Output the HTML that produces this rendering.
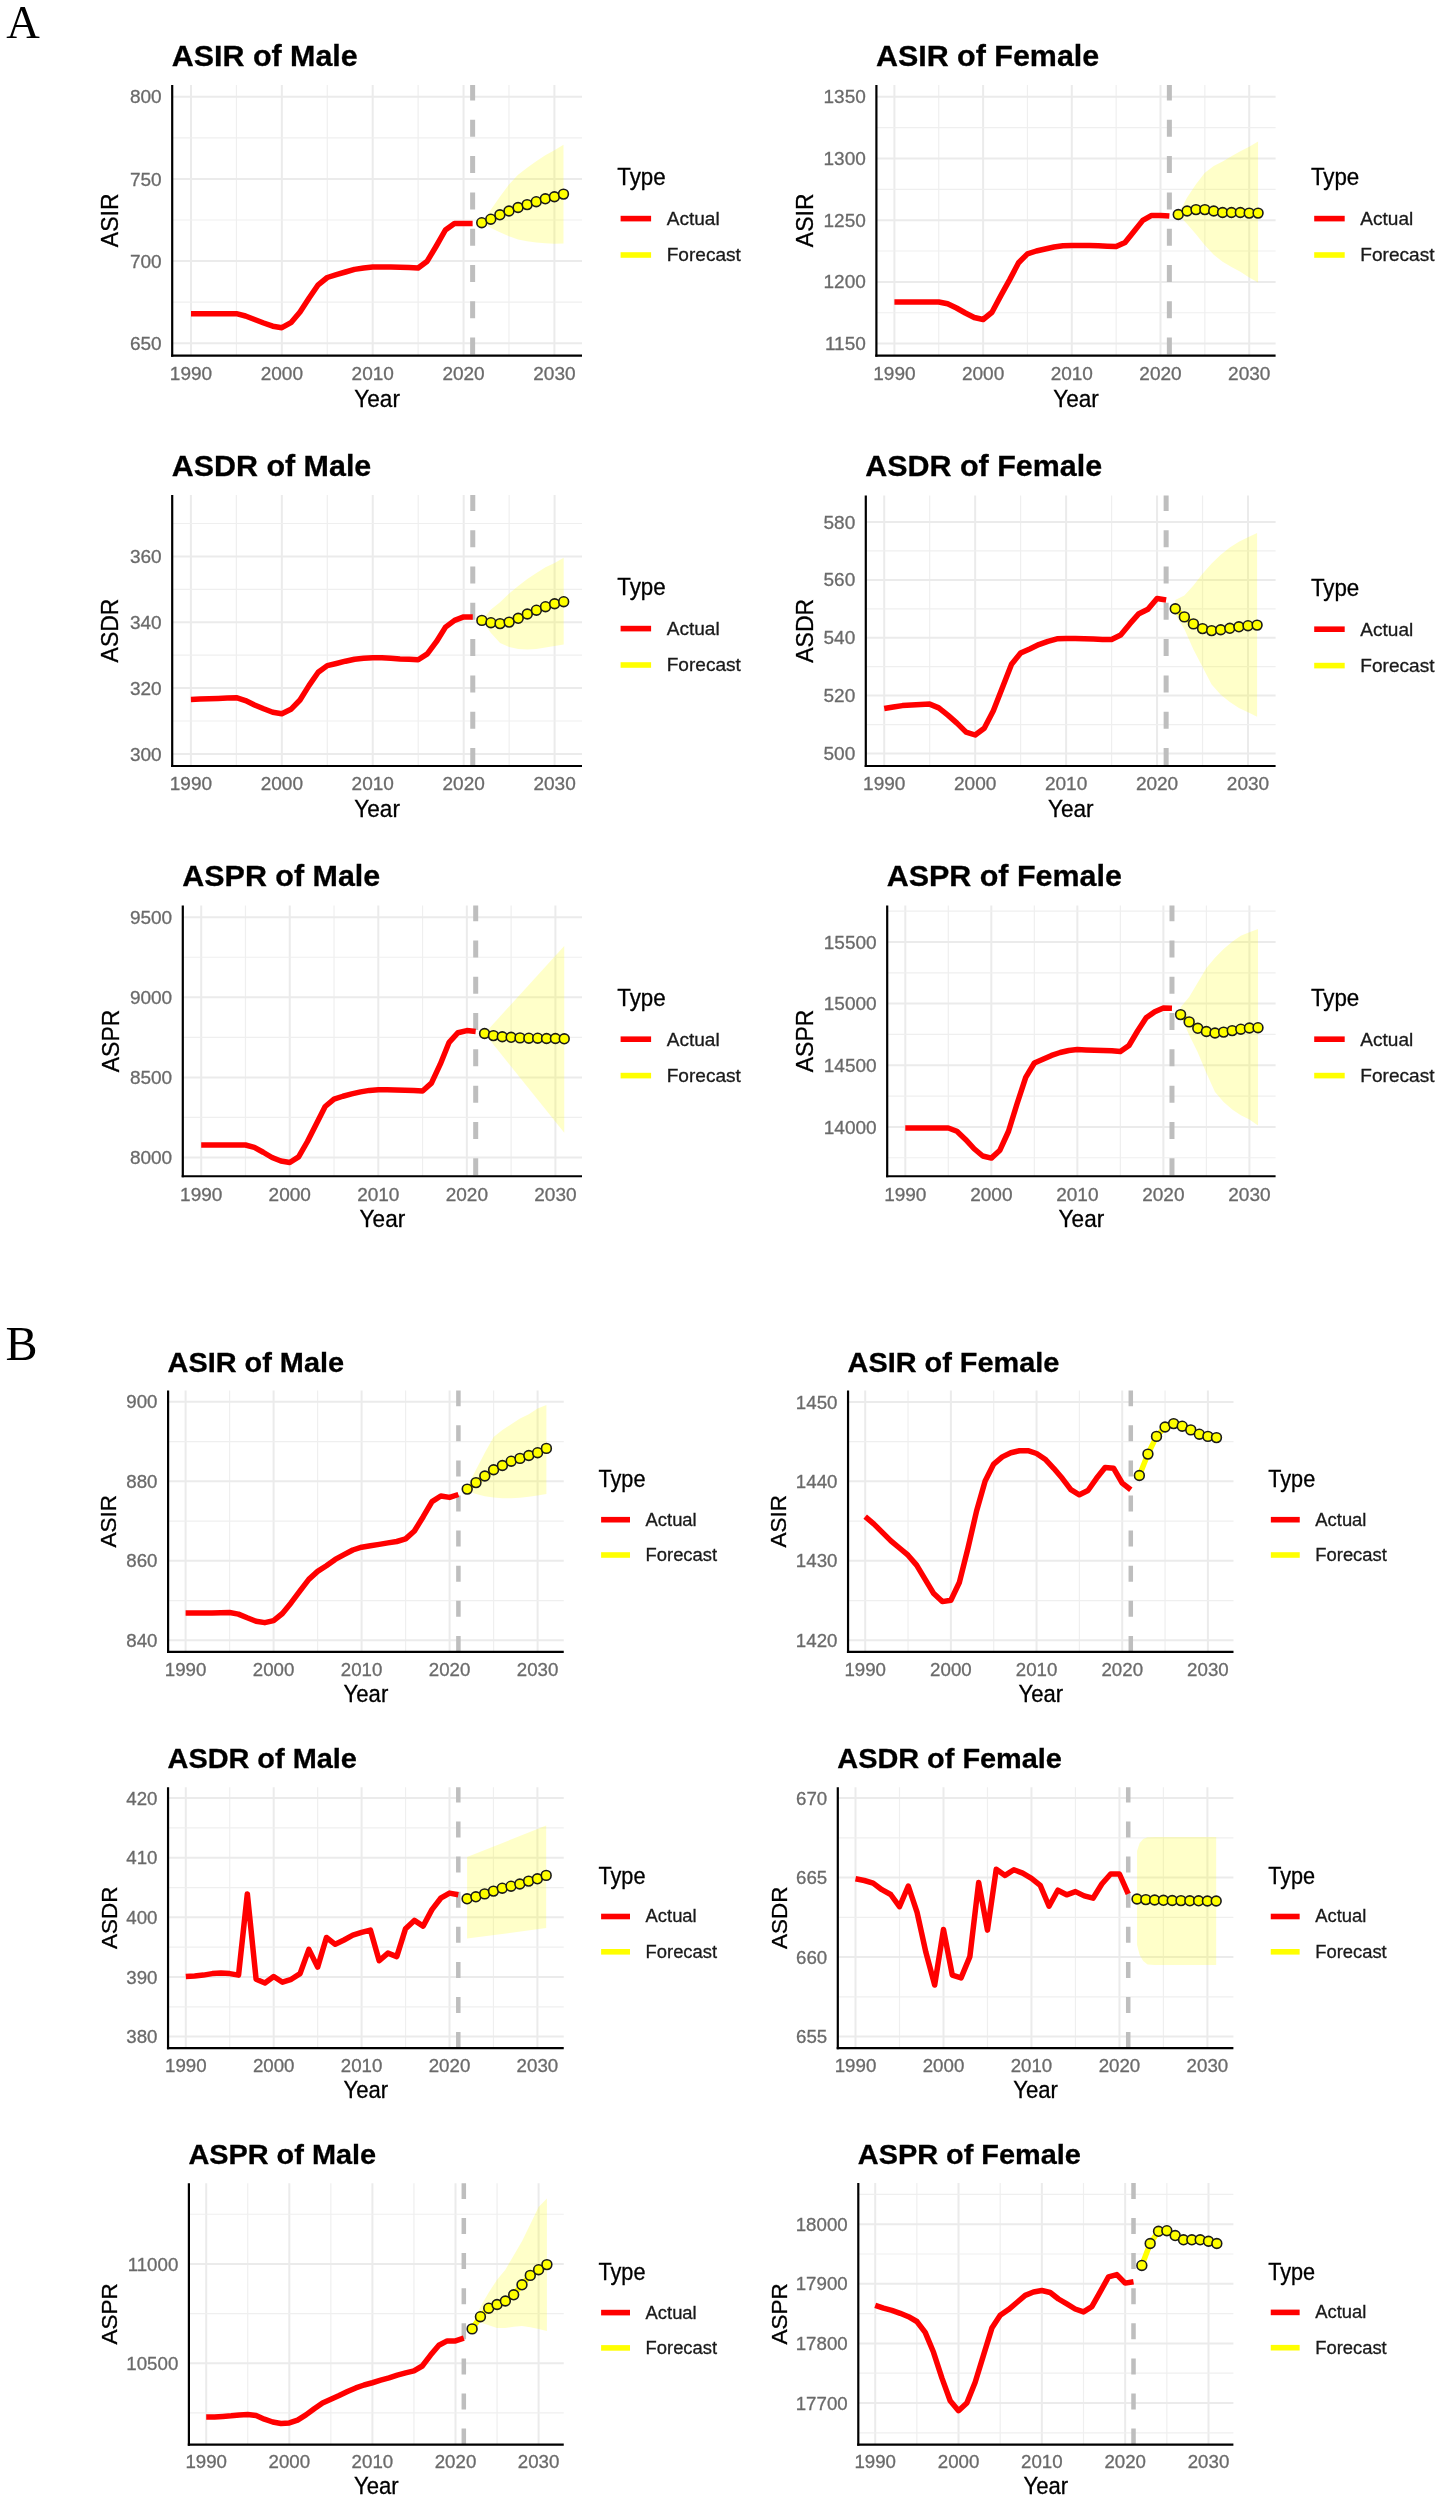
<!DOCTYPE html>
<html><head><meta charset="utf-8"><title>Forecast figure</title>
<style>html,body{margin:0;padding:0;background:#fff;}body{width:1440px;height:2500px;overflow:hidden;}svg{display:block;filter:blur(0.4px);}.tk{font-family:"Liberation Sans",sans-serif;fill:#6a6a6a;stroke:#6a6a6a;stroke-width:0.3px;}.at{font-family:"Liberation Sans",sans-serif;fill:#000;stroke:#000;stroke-width:0.3px;}.lt{font-family:"Liberation Sans",sans-serif;fill:#1a1a1a;stroke:#1a1a1a;stroke-width:0.3px;}.ti{font-family:"Liberation Sans",sans-serif;font-weight:bold;fill:#000;stroke:#000;stroke-width:0.3px;}.pl{font-family:"Liberation Serif",serif;fill:#000;}</style></head><body>
<svg width="1440" height="2500" viewBox="0 0 1440 2500">
<rect width="1440" height="2500" fill="#fff"/>
<text x="6.2" y="38.3" class="pl" font-size="46.5">A</text>
<text x="5.5" y="1359.6" class="pl" font-size="48">B</text>
<line x1="191" y1="85" x2="191" y2="355.6" stroke="#ebebeb" stroke-width="2.0"/>
<line x1="236.43" y1="85" x2="236.43" y2="355.6" stroke="#efefef" stroke-width="1.2"/>
<line x1="281.85" y1="85" x2="281.85" y2="355.6" stroke="#ebebeb" stroke-width="2.0"/>
<line x1="327.27" y1="85" x2="327.27" y2="355.6" stroke="#efefef" stroke-width="1.2"/>
<line x1="372.7" y1="85" x2="372.7" y2="355.6" stroke="#ebebeb" stroke-width="2.0"/>
<line x1="418.12" y1="85" x2="418.12" y2="355.6" stroke="#efefef" stroke-width="1.2"/>
<line x1="463.55" y1="85" x2="463.55" y2="355.6" stroke="#ebebeb" stroke-width="2.0"/>
<line x1="508.98" y1="85" x2="508.98" y2="355.6" stroke="#efefef" stroke-width="1.2"/>
<line x1="554.4" y1="85" x2="554.4" y2="355.6" stroke="#ebebeb" stroke-width="2.0"/>
<line x1="172.2" y1="343.3" x2="582" y2="343.3" stroke="#ebebeb" stroke-width="2.0"/>
<line x1="172.2" y1="302.2" x2="582" y2="302.2" stroke="#efefef" stroke-width="1.2"/>
<line x1="172.2" y1="261.1" x2="582" y2="261.1" stroke="#ebebeb" stroke-width="2.0"/>
<line x1="172.2" y1="220" x2="582" y2="220" stroke="#efefef" stroke-width="1.2"/>
<line x1="172.2" y1="178.9" x2="582" y2="178.9" stroke="#ebebeb" stroke-width="2.0"/>
<line x1="172.2" y1="137.8" x2="582" y2="137.8" stroke="#efefef" stroke-width="1.2"/>
<line x1="172.2" y1="96.7" x2="582" y2="96.7" stroke="#ebebeb" stroke-width="2.0"/>
<path d="M481.72,222.7 L490.8,209.85 L499.89,196.67 L508.98,184.56 L518.06,174.84 L527.14,167.76 L536.23,161.3 L545.31,155.19 L554.4,150.23 L563.49,144.7 L563.49,243.5 L554.4,243.8 L545.31,243.35 L536.23,242.5 L527.14,241.28 L518.06,239.41 L508.98,236.3 L499.89,232.31 L490.8,227.98 L481.72,222.7 Z" fill="#ffff00" fill-opacity="0.21" stroke="none"/>
<line x1="472.63" y1="355.6" x2="472.63" y2="85" stroke="#bebebe" stroke-width="5" stroke-dasharray="17 19.3" stroke-dashoffset="-1"/>
<polyline points="191,313.7 200.09,313.7 209.17,313.7 218.25,313.7 227.34,313.7 236.43,313.7 245.51,316 254.59,319.5 263.68,323 272.76,326.2 281.85,327.7 290.94,322.7 300.02,312 309.11,298 318.19,284.8 327.27,277.5 336.36,274.6 345.44,272 354.53,269.4 363.62,268 372.7,267 381.78,267 390.87,267 399.95,267.2 409.04,267.5 418.12,268 427.21,261.2 436.29,246 445.38,230 454.46,223.6 463.55,223.6 472.63,223.6" fill="none" stroke="#ff0000" stroke-width="5.5" stroke-linejoin="round" stroke-linecap="butt"/>
<polyline points="481.72,222.7 490.8,219.2 499.89,214.8 508.98,211 518.06,207.5 527.14,204.6 536.23,201.7 545.31,198.8 554.4,196.75 563.49,194.1" fill="none" stroke="#ffff00" stroke-width="5.5" stroke-linejoin="round" stroke-linecap="butt"/>
<circle cx="481.72" cy="222.7" r="4.9" fill="#ffff00" stroke="#1a1a1a" stroke-width="1.6"/>
<circle cx="490.8" cy="219.2" r="4.9" fill="#ffff00" stroke="#1a1a1a" stroke-width="1.6"/>
<circle cx="499.89" cy="214.8" r="4.9" fill="#ffff00" stroke="#1a1a1a" stroke-width="1.6"/>
<circle cx="508.98" cy="211" r="4.9" fill="#ffff00" stroke="#1a1a1a" stroke-width="1.6"/>
<circle cx="518.06" cy="207.5" r="4.9" fill="#ffff00" stroke="#1a1a1a" stroke-width="1.6"/>
<circle cx="527.14" cy="204.6" r="4.9" fill="#ffff00" stroke="#1a1a1a" stroke-width="1.6"/>
<circle cx="536.23" cy="201.7" r="4.9" fill="#ffff00" stroke="#1a1a1a" stroke-width="1.6"/>
<circle cx="545.31" cy="198.8" r="4.9" fill="#ffff00" stroke="#1a1a1a" stroke-width="1.6"/>
<circle cx="554.4" cy="196.75" r="4.9" fill="#ffff00" stroke="#1a1a1a" stroke-width="1.6"/>
<circle cx="563.49" cy="194.1" r="4.9" fill="#ffff00" stroke="#1a1a1a" stroke-width="1.6"/>
<line x1="172.2" y1="85" x2="172.2" y2="356.7" stroke="#000" stroke-width="2.2"/>
<line x1="171.1" y1="355.6" x2="582" y2="355.6" stroke="#000" stroke-width="2.2"/>
<text transform="translate(161.6,349.9)" text-anchor="end" class="tk" font-size="19">650</text>
<text transform="translate(161.6,267.7)" text-anchor="end" class="tk" font-size="19">700</text>
<text transform="translate(161.6,185.5)" text-anchor="end" class="tk" font-size="19">750</text>
<text transform="translate(161.6,103.3)" text-anchor="end" class="tk" font-size="19">800</text>
<text transform="translate(191,380)" text-anchor="middle" class="tk" font-size="19">1990</text>
<text transform="translate(281.85,380)" text-anchor="middle" class="tk" font-size="19">2000</text>
<text transform="translate(372.7,380)" text-anchor="middle" class="tk" font-size="19">2010</text>
<text transform="translate(463.55,380)" text-anchor="middle" class="tk" font-size="19">2020</text>
<text transform="translate(554.4,380)" text-anchor="middle" class="tk" font-size="19">2030</text>
<text transform="translate(377.1,406.7) scale(0.94,1)" text-anchor="middle" class="at" font-size="24">Year</text>
<text transform="translate(118.2,220.3) rotate(-90)" text-anchor="middle" class="at" font-size="23">ASIR</text>
<text transform="translate(171.7,65.6) scale(1.015,1)" class="ti" font-size="30">ASIR of Male</text>
<text transform="translate(617.3,185) scale(0.95,1)" class="at" font-size="23.5">Type</text>
<line x1="620.6" y1="218.6" x2="651.1" y2="218.6" stroke="#ff0000" stroke-width="5.6"/>
<line x1="620.6" y1="255" x2="651.1" y2="255" stroke="#ffff00" stroke-width="5.6"/>
<text transform="translate(666.7,225) scale(1.06,1)" class="lt" font-size="18">Actual</text>
<text transform="translate(666.7,261.4) scale(1.06,1)" class="lt" font-size="18">Forecast</text>
<line x1="894.4" y1="85" x2="894.4" y2="355.6" stroke="#ebebeb" stroke-width="2.0"/>
<line x1="938.75" y1="85" x2="938.75" y2="355.6" stroke="#efefef" stroke-width="1.2"/>
<line x1="983.1" y1="85" x2="983.1" y2="355.6" stroke="#ebebeb" stroke-width="2.0"/>
<line x1="1027.45" y1="85" x2="1027.45" y2="355.6" stroke="#efefef" stroke-width="1.2"/>
<line x1="1071.8" y1="85" x2="1071.8" y2="355.6" stroke="#ebebeb" stroke-width="2.0"/>
<line x1="1116.15" y1="85" x2="1116.15" y2="355.6" stroke="#efefef" stroke-width="1.2"/>
<line x1="1160.5" y1="85" x2="1160.5" y2="355.6" stroke="#ebebeb" stroke-width="2.0"/>
<line x1="1204.85" y1="85" x2="1204.85" y2="355.6" stroke="#efefef" stroke-width="1.2"/>
<line x1="1249.2" y1="85" x2="1249.2" y2="355.6" stroke="#ebebeb" stroke-width="2.0"/>
<line x1="876.4" y1="343.6" x2="1275.6" y2="343.6" stroke="#ebebeb" stroke-width="2.0"/>
<line x1="876.4" y1="312.74" x2="1275.6" y2="312.74" stroke="#efefef" stroke-width="1.2"/>
<line x1="876.4" y1="281.88" x2="1275.6" y2="281.88" stroke="#ebebeb" stroke-width="2.0"/>
<line x1="876.4" y1="251.01" x2="1275.6" y2="251.01" stroke="#efefef" stroke-width="1.2"/>
<line x1="876.4" y1="220.15" x2="1275.6" y2="220.15" stroke="#ebebeb" stroke-width="2.0"/>
<line x1="876.4" y1="189.29" x2="1275.6" y2="189.29" stroke="#efefef" stroke-width="1.2"/>
<line x1="876.4" y1="158.43" x2="1275.6" y2="158.43" stroke="#ebebeb" stroke-width="2.0"/>
<line x1="876.4" y1="127.56" x2="1275.6" y2="127.56" stroke="#efefef" stroke-width="1.2"/>
<line x1="876.4" y1="96.7" x2="1275.6" y2="96.7" stroke="#ebebeb" stroke-width="2.0"/>
<path d="M1178.24,214.5 L1187.11,197.5 L1195.98,184.21 L1204.85,172.84 L1213.72,165.92 L1222.59,161.56 L1231.46,156.26 L1240.33,151.29 L1249.2,146.68 L1258.07,141.4 L1258.07,282.5 L1249.2,277.39 L1240.33,271.74 L1231.46,266.91 L1222.59,261.78 L1213.72,254.63 L1204.85,245.17 L1195.98,234.14 L1187.11,224.06 L1178.24,214.5 Z" fill="#ffff00" fill-opacity="0.21" stroke="none"/>
<line x1="1169.37" y1="355.6" x2="1169.37" y2="85" stroke="#bebebe" stroke-width="5" stroke-dasharray="17 19.3" stroke-dashoffset="-1"/>
<polyline points="894.4,302 903.27,302 912.14,302 921.01,302 929.88,302 938.75,302 947.62,303.8 956.49,308 965.36,313 974.23,317.5 983.1,319.5 991.97,312.25 1000.84,295.6 1009.71,279.6 1018.58,262.7 1027.45,253.9 1036.32,251 1045.19,249 1054.06,247 1062.93,245.75 1071.8,245.5 1080.67,245.5 1089.54,245.6 1098.41,245.8 1107.28,246.2 1116.15,246.6 1125.02,242.5 1133.89,231.5 1142.76,220.4 1151.63,215.4 1160.5,215.4 1169.37,216" fill="none" stroke="#ff0000" stroke-width="5.5" stroke-linejoin="round" stroke-linecap="butt"/>
<polyline points="1178.24,214.5 1187.11,211 1195.98,209.6 1204.85,209.6 1213.72,211 1222.59,212.5 1231.46,212.5 1240.33,212.5 1249.2,213.1 1258.07,213.1" fill="none" stroke="#ffff00" stroke-width="5.5" stroke-linejoin="round" stroke-linecap="butt"/>
<circle cx="1178.24" cy="214.5" r="4.9" fill="#ffff00" stroke="#1a1a1a" stroke-width="1.6"/>
<circle cx="1187.11" cy="211" r="4.9" fill="#ffff00" stroke="#1a1a1a" stroke-width="1.6"/>
<circle cx="1195.98" cy="209.6" r="4.9" fill="#ffff00" stroke="#1a1a1a" stroke-width="1.6"/>
<circle cx="1204.85" cy="209.6" r="4.9" fill="#ffff00" stroke="#1a1a1a" stroke-width="1.6"/>
<circle cx="1213.72" cy="211" r="4.9" fill="#ffff00" stroke="#1a1a1a" stroke-width="1.6"/>
<circle cx="1222.59" cy="212.5" r="4.9" fill="#ffff00" stroke="#1a1a1a" stroke-width="1.6"/>
<circle cx="1231.46" cy="212.5" r="4.9" fill="#ffff00" stroke="#1a1a1a" stroke-width="1.6"/>
<circle cx="1240.33" cy="212.5" r="4.9" fill="#ffff00" stroke="#1a1a1a" stroke-width="1.6"/>
<circle cx="1249.2" cy="213.1" r="4.9" fill="#ffff00" stroke="#1a1a1a" stroke-width="1.6"/>
<circle cx="1258.07" cy="213.1" r="4.9" fill="#ffff00" stroke="#1a1a1a" stroke-width="1.6"/>
<line x1="876.4" y1="85" x2="876.4" y2="356.7" stroke="#000" stroke-width="2.2"/>
<line x1="875.3" y1="355.6" x2="1275.6" y2="355.6" stroke="#000" stroke-width="2.2"/>
<text transform="translate(865.8,350.2)" text-anchor="end" class="tk" font-size="19">1150</text>
<text transform="translate(865.8,288.48)" text-anchor="end" class="tk" font-size="19">1200</text>
<text transform="translate(865.8,226.75)" text-anchor="end" class="tk" font-size="19">1250</text>
<text transform="translate(865.8,165.03)" text-anchor="end" class="tk" font-size="19">1300</text>
<text transform="translate(865.8,103.3)" text-anchor="end" class="tk" font-size="19">1350</text>
<text transform="translate(894.4,380)" text-anchor="middle" class="tk" font-size="19">1990</text>
<text transform="translate(983.1,380)" text-anchor="middle" class="tk" font-size="19">2000</text>
<text transform="translate(1071.8,380)" text-anchor="middle" class="tk" font-size="19">2010</text>
<text transform="translate(1160.5,380)" text-anchor="middle" class="tk" font-size="19">2020</text>
<text transform="translate(1249.2,380)" text-anchor="middle" class="tk" font-size="19">2030</text>
<text transform="translate(1076,406.7) scale(0.94,1)" text-anchor="middle" class="at" font-size="24">Year</text>
<text transform="translate(813,220.3) rotate(-90)" text-anchor="middle" class="at" font-size="23">ASIR</text>
<text transform="translate(875.9,65.6) scale(1.015,1)" class="ti" font-size="30">ASIR of Female</text>
<text transform="translate(1310.9,185) scale(0.95,1)" class="at" font-size="23.5">Type</text>
<line x1="1314.2" y1="218.6" x2="1344.7" y2="218.6" stroke="#ff0000" stroke-width="5.6"/>
<line x1="1314.2" y1="255" x2="1344.7" y2="255" stroke="#ffff00" stroke-width="5.6"/>
<text transform="translate(1360.3,225) scale(1.06,1)" class="lt" font-size="18">Actual</text>
<text transform="translate(1360.3,261.4) scale(1.06,1)" class="lt" font-size="18">Forecast</text>
<line x1="190.9" y1="495" x2="190.9" y2="766" stroke="#ebebeb" stroke-width="2.0"/>
<line x1="236.36" y1="495" x2="236.36" y2="766" stroke="#efefef" stroke-width="1.2"/>
<line x1="281.83" y1="495" x2="281.83" y2="766" stroke="#ebebeb" stroke-width="2.0"/>
<line x1="327.29" y1="495" x2="327.29" y2="766" stroke="#efefef" stroke-width="1.2"/>
<line x1="372.75" y1="495" x2="372.75" y2="766" stroke="#ebebeb" stroke-width="2.0"/>
<line x1="418.21" y1="495" x2="418.21" y2="766" stroke="#efefef" stroke-width="1.2"/>
<line x1="463.68" y1="495" x2="463.68" y2="766" stroke="#ebebeb" stroke-width="2.0"/>
<line x1="509.14" y1="495" x2="509.14" y2="766" stroke="#efefef" stroke-width="1.2"/>
<line x1="554.6" y1="495" x2="554.6" y2="766" stroke="#ebebeb" stroke-width="2.0"/>
<line x1="172.2" y1="753.9" x2="582" y2="753.9" stroke="#ebebeb" stroke-width="2.0"/>
<line x1="172.2" y1="720.98" x2="582" y2="720.98" stroke="#efefef" stroke-width="1.2"/>
<line x1="172.2" y1="688.07" x2="582" y2="688.07" stroke="#ebebeb" stroke-width="2.0"/>
<line x1="172.2" y1="655.15" x2="582" y2="655.15" stroke="#efefef" stroke-width="1.2"/>
<line x1="172.2" y1="622.23" x2="582" y2="622.23" stroke="#ebebeb" stroke-width="2.0"/>
<line x1="172.2" y1="589.32" x2="582" y2="589.32" stroke="#efefef" stroke-width="1.2"/>
<line x1="172.2" y1="556.4" x2="582" y2="556.4" stroke="#ebebeb" stroke-width="2.0"/>
<line x1="172.2" y1="523.48" x2="582" y2="523.48" stroke="#efefef" stroke-width="1.2"/>
<path d="M481.86,620.4 L490.95,609.6 L500.05,602.3 L509.14,593.5 L518.23,586 L527.32,579 L536.42,573 L545.51,567.3 L554.6,563 L563.69,557.7 L563.69,644.6 L554.6,646 L545.51,647.5 L536.42,649 L527.32,649.5 L518.23,649 L509.14,647 L500.05,643 L490.95,633 L481.86,620.4 Z" fill="#ffff00" fill-opacity="0.21" stroke="none"/>
<line x1="472.77" y1="766" x2="472.77" y2="495" stroke="#bebebe" stroke-width="5" stroke-dasharray="17 19.3" stroke-dashoffset="-1"/>
<polyline points="190.9,699.4 199.99,699.1 209.09,698.8 218.18,698.4 227.27,698 236.36,697.7 245.46,700.6 254.55,705 263.64,708.75 272.73,712.25 281.83,713.7 290.92,709.3 300.01,700 309.1,685.4 318.2,672.3 327.29,665.6 336.38,663.5 345.47,661.2 354.57,659.2 363.66,658.3 372.75,657.7 381.84,657.7 390.94,658.3 400.03,658.9 409.12,659.2 418.21,659.75 427.31,653.9 436.4,641.7 445.49,627.1 454.58,620.4 463.68,616.9 472.77,616.9" fill="none" stroke="#ff0000" stroke-width="5.5" stroke-linejoin="round" stroke-linecap="butt"/>
<polyline points="481.86,620.4 490.95,622.7 500.05,623.6 509.14,622.1 518.23,618.3 527.32,614 536.42,610.2 545.51,606.7 554.6,603.75 563.69,601.7" fill="none" stroke="#ffff00" stroke-width="5.5" stroke-linejoin="round" stroke-linecap="butt"/>
<circle cx="481.86" cy="620.4" r="4.9" fill="#ffff00" stroke="#1a1a1a" stroke-width="1.6"/>
<circle cx="490.95" cy="622.7" r="4.9" fill="#ffff00" stroke="#1a1a1a" stroke-width="1.6"/>
<circle cx="500.05" cy="623.6" r="4.9" fill="#ffff00" stroke="#1a1a1a" stroke-width="1.6"/>
<circle cx="509.14" cy="622.1" r="4.9" fill="#ffff00" stroke="#1a1a1a" stroke-width="1.6"/>
<circle cx="518.23" cy="618.3" r="4.9" fill="#ffff00" stroke="#1a1a1a" stroke-width="1.6"/>
<circle cx="527.32" cy="614" r="4.9" fill="#ffff00" stroke="#1a1a1a" stroke-width="1.6"/>
<circle cx="536.42" cy="610.2" r="4.9" fill="#ffff00" stroke="#1a1a1a" stroke-width="1.6"/>
<circle cx="545.51" cy="606.7" r="4.9" fill="#ffff00" stroke="#1a1a1a" stroke-width="1.6"/>
<circle cx="554.6" cy="603.75" r="4.9" fill="#ffff00" stroke="#1a1a1a" stroke-width="1.6"/>
<circle cx="563.69" cy="601.7" r="4.9" fill="#ffff00" stroke="#1a1a1a" stroke-width="1.6"/>
<line x1="172.2" y1="495" x2="172.2" y2="767.1" stroke="#000" stroke-width="2.2"/>
<line x1="171.1" y1="766" x2="582" y2="766" stroke="#000" stroke-width="2.2"/>
<text transform="translate(161.6,760.5)" text-anchor="end" class="tk" font-size="19">300</text>
<text transform="translate(161.6,694.67)" text-anchor="end" class="tk" font-size="19">320</text>
<text transform="translate(161.6,628.83)" text-anchor="end" class="tk" font-size="19">340</text>
<text transform="translate(161.6,563)" text-anchor="end" class="tk" font-size="19">360</text>
<text transform="translate(190.9,790.4)" text-anchor="middle" class="tk" font-size="19">1990</text>
<text transform="translate(281.83,790.4)" text-anchor="middle" class="tk" font-size="19">2000</text>
<text transform="translate(372.75,790.4)" text-anchor="middle" class="tk" font-size="19">2010</text>
<text transform="translate(463.68,790.4)" text-anchor="middle" class="tk" font-size="19">2020</text>
<text transform="translate(554.6,790.4)" text-anchor="middle" class="tk" font-size="19">2030</text>
<text transform="translate(377.1,817.1) scale(0.94,1)" text-anchor="middle" class="at" font-size="24">Year</text>
<text transform="translate(117.9,630.5) rotate(-90)" text-anchor="middle" class="at" font-size="23">ASDR</text>
<text transform="translate(171.7,475.6) scale(1.015,1)" class="ti" font-size="30">ASDR of Male</text>
<text transform="translate(617.3,595) scale(0.95,1)" class="at" font-size="23.5">Type</text>
<line x1="620.6" y1="628.6" x2="651.1" y2="628.6" stroke="#ff0000" stroke-width="5.6"/>
<line x1="620.6" y1="665" x2="651.1" y2="665" stroke="#ffff00" stroke-width="5.6"/>
<text transform="translate(666.7,635) scale(1.06,1)" class="lt" font-size="18">Actual</text>
<text transform="translate(666.7,671.4) scale(1.06,1)" class="lt" font-size="18">Forecast</text>
<line x1="884.2" y1="495.6" x2="884.2" y2="766" stroke="#ebebeb" stroke-width="2.0"/>
<line x1="929.68" y1="495.6" x2="929.68" y2="766" stroke="#efefef" stroke-width="1.2"/>
<line x1="975.15" y1="495.6" x2="975.15" y2="766" stroke="#ebebeb" stroke-width="2.0"/>
<line x1="1020.62" y1="495.6" x2="1020.62" y2="766" stroke="#efefef" stroke-width="1.2"/>
<line x1="1066.1" y1="495.6" x2="1066.1" y2="766" stroke="#ebebeb" stroke-width="2.0"/>
<line x1="1111.58" y1="495.6" x2="1111.58" y2="766" stroke="#efefef" stroke-width="1.2"/>
<line x1="1157.05" y1="495.6" x2="1157.05" y2="766" stroke="#ebebeb" stroke-width="2.0"/>
<line x1="1202.53" y1="495.6" x2="1202.53" y2="766" stroke="#efefef" stroke-width="1.2"/>
<line x1="1248" y1="495.6" x2="1248" y2="766" stroke="#ebebeb" stroke-width="2.0"/>
<line x1="865.8" y1="753.5" x2="1275.6" y2="753.5" stroke="#ebebeb" stroke-width="2.0"/>
<line x1="865.8" y1="724.56" x2="1275.6" y2="724.56" stroke="#efefef" stroke-width="1.2"/>
<line x1="865.8" y1="695.62" x2="1275.6" y2="695.62" stroke="#ebebeb" stroke-width="2.0"/>
<line x1="865.8" y1="666.69" x2="1275.6" y2="666.69" stroke="#efefef" stroke-width="1.2"/>
<line x1="865.8" y1="637.75" x2="1275.6" y2="637.75" stroke="#ebebeb" stroke-width="2.0"/>
<line x1="865.8" y1="608.81" x2="1275.6" y2="608.81" stroke="#efefef" stroke-width="1.2"/>
<line x1="865.8" y1="579.88" x2="1275.6" y2="579.88" stroke="#ebebeb" stroke-width="2.0"/>
<line x1="865.8" y1="550.94" x2="1275.6" y2="550.94" stroke="#efefef" stroke-width="1.2"/>
<line x1="865.8" y1="522" x2="1275.6" y2="522" stroke="#ebebeb" stroke-width="2.0"/>
<path d="M1175.24,600 L1184.34,595.6 L1193.43,585.4 L1202.53,573.75 L1211.62,563.5 L1220.72,554.8 L1229.81,547.5 L1238.9,541.7 L1248,537.3 L1257.1,533 L1257.1,716.7 L1248,712.3 L1238.9,708 L1229.81,702 L1220.72,694.8 L1211.62,684.6 L1202.53,667 L1193.43,649.6 L1184.34,629 L1175.24,614.6 Z" fill="#ffff00" fill-opacity="0.21" stroke="none"/>
<line x1="1166.14" y1="766" x2="1166.14" y2="495.6" stroke="#bebebe" stroke-width="5" stroke-dasharray="17 19.3" stroke-dashoffset="-1"/>
<polyline points="884.2,708.5 893.3,707 902.39,705.6 911.49,705 920.58,704.4 929.68,704.1 938.77,707.9 947.87,715.2 956.96,723.1 966.06,732.1 975.15,735 984.25,728.3 993.34,710.8 1002.44,687.5 1011.53,664.2 1020.62,653.1 1029.72,649 1038.82,644.6 1047.91,641.4 1057.01,638.8 1066.1,638.5 1075.19,638.5 1084.29,638.8 1093.38,639.1 1102.48,639.4 1111.58,639.4 1120.67,635 1129.77,623.9 1138.86,613.7 1147.95,609.3 1157.05,598.5 1166.14,600" fill="none" stroke="#ff0000" stroke-width="5.5" stroke-linejoin="round" stroke-linecap="butt"/>
<polyline points="1175.24,608.75 1184.34,616.9 1193.43,623.9 1202.53,628.6 1211.62,630.6 1220.72,629.75 1229.81,628.3 1238.9,626.8 1248,625.7 1257.1,625.1" fill="none" stroke="#ffff00" stroke-width="5.5" stroke-linejoin="round" stroke-linecap="butt"/>
<circle cx="1175.24" cy="608.75" r="4.9" fill="#ffff00" stroke="#1a1a1a" stroke-width="1.6"/>
<circle cx="1184.34" cy="616.9" r="4.9" fill="#ffff00" stroke="#1a1a1a" stroke-width="1.6"/>
<circle cx="1193.43" cy="623.9" r="4.9" fill="#ffff00" stroke="#1a1a1a" stroke-width="1.6"/>
<circle cx="1202.53" cy="628.6" r="4.9" fill="#ffff00" stroke="#1a1a1a" stroke-width="1.6"/>
<circle cx="1211.62" cy="630.6" r="4.9" fill="#ffff00" stroke="#1a1a1a" stroke-width="1.6"/>
<circle cx="1220.72" cy="629.75" r="4.9" fill="#ffff00" stroke="#1a1a1a" stroke-width="1.6"/>
<circle cx="1229.81" cy="628.3" r="4.9" fill="#ffff00" stroke="#1a1a1a" stroke-width="1.6"/>
<circle cx="1238.9" cy="626.8" r="4.9" fill="#ffff00" stroke="#1a1a1a" stroke-width="1.6"/>
<circle cx="1248" cy="625.7" r="4.9" fill="#ffff00" stroke="#1a1a1a" stroke-width="1.6"/>
<circle cx="1257.1" cy="625.1" r="4.9" fill="#ffff00" stroke="#1a1a1a" stroke-width="1.6"/>
<line x1="865.8" y1="495.6" x2="865.8" y2="767.1" stroke="#000" stroke-width="2.2"/>
<line x1="864.7" y1="766" x2="1275.6" y2="766" stroke="#000" stroke-width="2.2"/>
<text transform="translate(855.2,760.1)" text-anchor="end" class="tk" font-size="19">500</text>
<text transform="translate(855.2,702.23)" text-anchor="end" class="tk" font-size="19">520</text>
<text transform="translate(855.2,644.35)" text-anchor="end" class="tk" font-size="19">540</text>
<text transform="translate(855.2,586.48)" text-anchor="end" class="tk" font-size="19">560</text>
<text transform="translate(855.2,528.6)" text-anchor="end" class="tk" font-size="19">580</text>
<text transform="translate(884.2,790.4)" text-anchor="middle" class="tk" font-size="19">1990</text>
<text transform="translate(975.15,790.4)" text-anchor="middle" class="tk" font-size="19">2000</text>
<text transform="translate(1066.1,790.4)" text-anchor="middle" class="tk" font-size="19">2010</text>
<text transform="translate(1157.05,790.4)" text-anchor="middle" class="tk" font-size="19">2020</text>
<text transform="translate(1248,790.4)" text-anchor="middle" class="tk" font-size="19">2030</text>
<text transform="translate(1070.7,817.1) scale(0.94,1)" text-anchor="middle" class="at" font-size="24">Year</text>
<text transform="translate(813,630.8) rotate(-90)" text-anchor="middle" class="at" font-size="23">ASDR</text>
<text transform="translate(865.3,476.2) scale(1.015,1)" class="ti" font-size="30">ASDR of Female</text>
<text transform="translate(1310.9,595.6) scale(0.95,1)" class="at" font-size="23.5">Type</text>
<line x1="1314.2" y1="629.2" x2="1344.7" y2="629.2" stroke="#ff0000" stroke-width="5.6"/>
<line x1="1314.2" y1="665.6" x2="1344.7" y2="665.6" stroke="#ffff00" stroke-width="5.6"/>
<text transform="translate(1360.3,635.6) scale(1.06,1)" class="lt" font-size="18">Actual</text>
<text transform="translate(1360.3,672) scale(1.06,1)" class="lt" font-size="18">Forecast</text>
<line x1="201.2" y1="905.6" x2="201.2" y2="1176.25" stroke="#ebebeb" stroke-width="2.0"/>
<line x1="245.47" y1="905.6" x2="245.47" y2="1176.25" stroke="#efefef" stroke-width="1.2"/>
<line x1="289.75" y1="905.6" x2="289.75" y2="1176.25" stroke="#ebebeb" stroke-width="2.0"/>
<line x1="334.02" y1="905.6" x2="334.02" y2="1176.25" stroke="#efefef" stroke-width="1.2"/>
<line x1="378.3" y1="905.6" x2="378.3" y2="1176.25" stroke="#ebebeb" stroke-width="2.0"/>
<line x1="422.57" y1="905.6" x2="422.57" y2="1176.25" stroke="#efefef" stroke-width="1.2"/>
<line x1="466.85" y1="905.6" x2="466.85" y2="1176.25" stroke="#ebebeb" stroke-width="2.0"/>
<line x1="511.12" y1="905.6" x2="511.12" y2="1176.25" stroke="#efefef" stroke-width="1.2"/>
<line x1="555.4" y1="905.6" x2="555.4" y2="1176.25" stroke="#ebebeb" stroke-width="2.0"/>
<line x1="182.8" y1="1157.5" x2="582" y2="1157.5" stroke="#ebebeb" stroke-width="2.0"/>
<line x1="182.8" y1="1117.45" x2="582" y2="1117.45" stroke="#efefef" stroke-width="1.2"/>
<line x1="182.8" y1="1077.4" x2="582" y2="1077.4" stroke="#ebebeb" stroke-width="2.0"/>
<line x1="182.8" y1="1037.35" x2="582" y2="1037.35" stroke="#efefef" stroke-width="1.2"/>
<line x1="182.8" y1="997.3" x2="582" y2="997.3" stroke="#ebebeb" stroke-width="2.0"/>
<line x1="182.8" y1="957.25" x2="582" y2="957.25" stroke="#efefef" stroke-width="1.2"/>
<line x1="182.8" y1="917.2" x2="582" y2="917.2" stroke="#ebebeb" stroke-width="2.0"/>
<path d="M484.56,1033.5 L564.25,946 L564.25,1132.7 L484.56,1033.5 Z" fill="#ffff00" fill-opacity="0.21" stroke="none"/>
<line x1="475.7" y1="1176.25" x2="475.7" y2="905.6" stroke="#bebebe" stroke-width="5" stroke-dasharray="17 19.3" stroke-dashoffset="-1"/>
<polyline points="201.2,1145 210.05,1145 218.91,1145 227.76,1145 236.62,1145 245.47,1145 254.33,1147.3 263.19,1152.25 272.04,1157.5 280.89,1161 289.75,1162.5 298.61,1156.9 307.46,1141.5 316.31,1124 325.17,1106.5 334.02,1099.2 342.88,1096.25 351.74,1093.9 360.59,1091.9 369.44,1090.4 378.3,1089.8 387.15,1089.8 396.01,1090 404.87,1090.3 413.72,1090.6 422.57,1091 431.43,1083.1 440.28,1064.2 449.14,1042.3 457.99,1032.7 466.85,1030.6 475.7,1031.5" fill="none" stroke="#ff0000" stroke-width="5.5" stroke-linejoin="round" stroke-linecap="butt"/>
<polyline points="484.56,1033.5 493.42,1035.6 502.27,1036.75 511.12,1037.3 519.98,1037.9 528.84,1038.2 537.69,1038.2 546.54,1038.5 555.4,1038.5 564.25,1038.8" fill="none" stroke="#ffff00" stroke-width="5.5" stroke-linejoin="round" stroke-linecap="butt"/>
<circle cx="484.56" cy="1033.5" r="4.9" fill="#ffff00" stroke="#1a1a1a" stroke-width="1.6"/>
<circle cx="493.42" cy="1035.6" r="4.9" fill="#ffff00" stroke="#1a1a1a" stroke-width="1.6"/>
<circle cx="502.27" cy="1036.75" r="4.9" fill="#ffff00" stroke="#1a1a1a" stroke-width="1.6"/>
<circle cx="511.12" cy="1037.3" r="4.9" fill="#ffff00" stroke="#1a1a1a" stroke-width="1.6"/>
<circle cx="519.98" cy="1037.9" r="4.9" fill="#ffff00" stroke="#1a1a1a" stroke-width="1.6"/>
<circle cx="528.84" cy="1038.2" r="4.9" fill="#ffff00" stroke="#1a1a1a" stroke-width="1.6"/>
<circle cx="537.69" cy="1038.2" r="4.9" fill="#ffff00" stroke="#1a1a1a" stroke-width="1.6"/>
<circle cx="546.54" cy="1038.5" r="4.9" fill="#ffff00" stroke="#1a1a1a" stroke-width="1.6"/>
<circle cx="555.4" cy="1038.5" r="4.9" fill="#ffff00" stroke="#1a1a1a" stroke-width="1.6"/>
<circle cx="564.25" cy="1038.8" r="4.9" fill="#ffff00" stroke="#1a1a1a" stroke-width="1.6"/>
<line x1="182.8" y1="905.6" x2="182.8" y2="1177.35" stroke="#000" stroke-width="2.2"/>
<line x1="181.7" y1="1176.25" x2="582" y2="1176.25" stroke="#000" stroke-width="2.2"/>
<text transform="translate(172.2,1164.1)" text-anchor="end" class="tk" font-size="19">8000</text>
<text transform="translate(172.2,1084)" text-anchor="end" class="tk" font-size="19">8500</text>
<text transform="translate(172.2,1003.9)" text-anchor="end" class="tk" font-size="19">9000</text>
<text transform="translate(172.2,923.8)" text-anchor="end" class="tk" font-size="19">9500</text>
<text transform="translate(201.2,1200.65)" text-anchor="middle" class="tk" font-size="19">1990</text>
<text transform="translate(289.75,1200.65)" text-anchor="middle" class="tk" font-size="19">2000</text>
<text transform="translate(378.3,1200.65)" text-anchor="middle" class="tk" font-size="19">2010</text>
<text transform="translate(466.85,1200.65)" text-anchor="middle" class="tk" font-size="19">2020</text>
<text transform="translate(555.4,1200.65)" text-anchor="middle" class="tk" font-size="19">2030</text>
<text transform="translate(382.4,1227.35) scale(0.94,1)" text-anchor="middle" class="at" font-size="24">Year</text>
<text transform="translate(118.9,1040.92) rotate(-90)" text-anchor="middle" class="at" font-size="23">ASPR</text>
<text transform="translate(182.3,886.2) scale(1.015,1)" class="ti" font-size="30">ASPR of Male</text>
<text transform="translate(617.3,1005.6) scale(0.95,1)" class="at" font-size="23.5">Type</text>
<line x1="620.6" y1="1039.2" x2="651.1" y2="1039.2" stroke="#ff0000" stroke-width="5.6"/>
<line x1="620.6" y1="1075.6" x2="651.1" y2="1075.6" stroke="#ffff00" stroke-width="5.6"/>
<text transform="translate(666.7,1045.6) scale(1.06,1)" class="lt" font-size="18">Actual</text>
<text transform="translate(666.7,1082) scale(1.06,1)" class="lt" font-size="18">Forecast</text>
<line x1="905.3" y1="905.6" x2="905.3" y2="1176.25" stroke="#ebebeb" stroke-width="2.0"/>
<line x1="948.31" y1="905.6" x2="948.31" y2="1176.25" stroke="#efefef" stroke-width="1.2"/>
<line x1="991.33" y1="905.6" x2="991.33" y2="1176.25" stroke="#ebebeb" stroke-width="2.0"/>
<line x1="1034.34" y1="905.6" x2="1034.34" y2="1176.25" stroke="#efefef" stroke-width="1.2"/>
<line x1="1077.35" y1="905.6" x2="1077.35" y2="1176.25" stroke="#ebebeb" stroke-width="2.0"/>
<line x1="1120.36" y1="905.6" x2="1120.36" y2="1176.25" stroke="#efefef" stroke-width="1.2"/>
<line x1="1163.38" y1="905.6" x2="1163.38" y2="1176.25" stroke="#ebebeb" stroke-width="2.0"/>
<line x1="1206.39" y1="905.6" x2="1206.39" y2="1176.25" stroke="#efefef" stroke-width="1.2"/>
<line x1="1249.4" y1="905.6" x2="1249.4" y2="1176.25" stroke="#ebebeb" stroke-width="2.0"/>
<line x1="887.2" y1="1157.73" x2="1275.6" y2="1157.73" stroke="#efefef" stroke-width="1.2"/>
<line x1="887.2" y1="1126.9" x2="1275.6" y2="1126.9" stroke="#ebebeb" stroke-width="2.0"/>
<line x1="887.2" y1="1096.08" x2="1275.6" y2="1096.08" stroke="#efefef" stroke-width="1.2"/>
<line x1="887.2" y1="1065.25" x2="1275.6" y2="1065.25" stroke="#ebebeb" stroke-width="2.0"/>
<line x1="887.2" y1="1034.43" x2="1275.6" y2="1034.43" stroke="#efefef" stroke-width="1.2"/>
<line x1="887.2" y1="1003.6" x2="1275.6" y2="1003.6" stroke="#ebebeb" stroke-width="2.0"/>
<line x1="887.2" y1="972.78" x2="1275.6" y2="972.78" stroke="#efefef" stroke-width="1.2"/>
<line x1="887.2" y1="941.95" x2="1275.6" y2="941.95" stroke="#ebebeb" stroke-width="2.0"/>
<line x1="887.2" y1="911.12" x2="1275.6" y2="911.12" stroke="#efefef" stroke-width="1.2"/>
<path d="M1180.58,1007.3 L1189.18,997 L1197.79,982.5 L1206.39,968 L1214.99,957.7 L1223.59,949 L1232.2,941.7 L1240.8,935.8 L1249.4,932.3 L1258,929 L1258,1125.4 L1249.4,1119.6 L1240.8,1115.2 L1232.2,1109.4 L1223.59,1102 L1214.99,1091.9 L1206.39,1073 L1197.79,1052.5 L1189.18,1035 L1180.58,1016 Z" fill="#ffff00" fill-opacity="0.21" stroke="none"/>
<line x1="1171.98" y1="1176.25" x2="1171.98" y2="905.6" stroke="#bebebe" stroke-width="5" stroke-dasharray="17 19.3" stroke-dashoffset="-1"/>
<polyline points="905.3,1128 913.9,1128 922.5,1128 931.11,1128 939.71,1128 948.31,1128 956.91,1131.25 965.52,1139.4 974.12,1148.75 982.72,1156 991.33,1158.1 999.93,1150.2 1008.53,1131.25 1017.13,1103.5 1025.73,1077.3 1034.34,1063 1042.94,1059.2 1051.54,1055.4 1060.14,1052.5 1068.75,1050.5 1077.35,1049.6 1085.95,1049.9 1094.56,1050.2 1103.16,1050.5 1111.76,1050.75 1120.36,1051.6 1128.97,1045.5 1137.57,1031 1146.17,1017.8 1154.77,1011.7 1163.38,1007.9 1171.98,1008.2" fill="none" stroke="#ff0000" stroke-width="5.5" stroke-linejoin="round" stroke-linecap="butt"/>
<polyline points="1180.58,1014.6 1189.18,1021.9 1197.79,1028.3 1206.39,1031.5 1214.99,1033 1223.59,1032.1 1232.2,1030.6 1240.8,1029.2 1249.4,1028 1258,1027.7" fill="none" stroke="#ffff00" stroke-width="5.5" stroke-linejoin="round" stroke-linecap="butt"/>
<circle cx="1180.58" cy="1014.6" r="4.9" fill="#ffff00" stroke="#1a1a1a" stroke-width="1.6"/>
<circle cx="1189.18" cy="1021.9" r="4.9" fill="#ffff00" stroke="#1a1a1a" stroke-width="1.6"/>
<circle cx="1197.79" cy="1028.3" r="4.9" fill="#ffff00" stroke="#1a1a1a" stroke-width="1.6"/>
<circle cx="1206.39" cy="1031.5" r="4.9" fill="#ffff00" stroke="#1a1a1a" stroke-width="1.6"/>
<circle cx="1214.99" cy="1033" r="4.9" fill="#ffff00" stroke="#1a1a1a" stroke-width="1.6"/>
<circle cx="1223.59" cy="1032.1" r="4.9" fill="#ffff00" stroke="#1a1a1a" stroke-width="1.6"/>
<circle cx="1232.2" cy="1030.6" r="4.9" fill="#ffff00" stroke="#1a1a1a" stroke-width="1.6"/>
<circle cx="1240.8" cy="1029.2" r="4.9" fill="#ffff00" stroke="#1a1a1a" stroke-width="1.6"/>
<circle cx="1249.4" cy="1028" r="4.9" fill="#ffff00" stroke="#1a1a1a" stroke-width="1.6"/>
<circle cx="1258" cy="1027.7" r="4.9" fill="#ffff00" stroke="#1a1a1a" stroke-width="1.6"/>
<line x1="887.2" y1="905.6" x2="887.2" y2="1177.35" stroke="#000" stroke-width="2.2"/>
<line x1="886.1" y1="1176.25" x2="1275.6" y2="1176.25" stroke="#000" stroke-width="2.2"/>
<text transform="translate(876.6,1133.5)" text-anchor="end" class="tk" font-size="19">14000</text>
<text transform="translate(876.6,1071.85)" text-anchor="end" class="tk" font-size="19">14500</text>
<text transform="translate(876.6,1010.2)" text-anchor="end" class="tk" font-size="19">15000</text>
<text transform="translate(876.6,948.55)" text-anchor="end" class="tk" font-size="19">15500</text>
<text transform="translate(905.3,1200.65)" text-anchor="middle" class="tk" font-size="19">1990</text>
<text transform="translate(991.33,1200.65)" text-anchor="middle" class="tk" font-size="19">2000</text>
<text transform="translate(1077.35,1200.65)" text-anchor="middle" class="tk" font-size="19">2010</text>
<text transform="translate(1163.38,1200.65)" text-anchor="middle" class="tk" font-size="19">2020</text>
<text transform="translate(1249.4,1200.65)" text-anchor="middle" class="tk" font-size="19">2030</text>
<text transform="translate(1081.4,1227.35) scale(0.94,1)" text-anchor="middle" class="at" font-size="24">Year</text>
<text transform="translate(813,1040.92) rotate(-90)" text-anchor="middle" class="at" font-size="23">ASPR</text>
<text transform="translate(886.7,886.2) scale(1.015,1)" class="ti" font-size="30">ASPR of Female</text>
<text transform="translate(1310.9,1005.6) scale(0.95,1)" class="at" font-size="23.5">Type</text>
<line x1="1314.2" y1="1039.2" x2="1344.7" y2="1039.2" stroke="#ff0000" stroke-width="5.6"/>
<line x1="1314.2" y1="1075.6" x2="1344.7" y2="1075.6" stroke="#ffff00" stroke-width="5.6"/>
<text transform="translate(1360.3,1045.6) scale(1.06,1)" class="lt" font-size="18">Actual</text>
<text transform="translate(1360.3,1082) scale(1.06,1)" class="lt" font-size="18">Forecast</text>
<line x1="185.6" y1="1390.4" x2="185.6" y2="1651.9" stroke="#ebebeb" stroke-width="2.0"/>
<line x1="229.6" y1="1390.4" x2="229.6" y2="1651.9" stroke="#efefef" stroke-width="1.2"/>
<line x1="273.6" y1="1390.4" x2="273.6" y2="1651.9" stroke="#ebebeb" stroke-width="2.0"/>
<line x1="317.6" y1="1390.4" x2="317.6" y2="1651.9" stroke="#efefef" stroke-width="1.2"/>
<line x1="361.6" y1="1390.4" x2="361.6" y2="1651.9" stroke="#ebebeb" stroke-width="2.0"/>
<line x1="405.6" y1="1390.4" x2="405.6" y2="1651.9" stroke="#efefef" stroke-width="1.2"/>
<line x1="449.6" y1="1390.4" x2="449.6" y2="1651.9" stroke="#ebebeb" stroke-width="2.0"/>
<line x1="493.6" y1="1390.4" x2="493.6" y2="1651.9" stroke="#efefef" stroke-width="1.2"/>
<line x1="537.6" y1="1390.4" x2="537.6" y2="1651.9" stroke="#ebebeb" stroke-width="2.0"/>
<line x1="168.1" y1="1640.3" x2="563.75" y2="1640.3" stroke="#ebebeb" stroke-width="2.0"/>
<line x1="168.1" y1="1600.55" x2="563.75" y2="1600.55" stroke="#efefef" stroke-width="1.2"/>
<line x1="168.1" y1="1560.8" x2="563.75" y2="1560.8" stroke="#ebebeb" stroke-width="2.0"/>
<line x1="168.1" y1="1521.05" x2="563.75" y2="1521.05" stroke="#efefef" stroke-width="1.2"/>
<line x1="168.1" y1="1481.3" x2="563.75" y2="1481.3" stroke="#ebebeb" stroke-width="2.0"/>
<line x1="168.1" y1="1441.55" x2="563.75" y2="1441.55" stroke="#efefef" stroke-width="1.2"/>
<line x1="168.1" y1="1401.8" x2="563.75" y2="1401.8" stroke="#ebebeb" stroke-width="2.0"/>
<path d="M467.2,1486.8 L476,1469.75 L484.8,1452.7 L493.6,1437 L502.4,1430 L511.2,1424.2 L520,1418.5 L528.8,1414.2 L537.6,1408.5 L546.4,1405.1 L546.4,1494 L537.6,1495.4 L528.8,1496.8 L520,1497.7 L511.2,1498.2 L502.4,1498.2 L493.6,1497.4 L484.8,1496.2 L476,1494 L467.2,1491.1 Z" fill="#ffff00" fill-opacity="0.21" stroke="none"/>
<line x1="458.4" y1="1651.9" x2="458.4" y2="1390.4" stroke="#bebebe" stroke-width="4.5" stroke-dasharray="16 19.1" stroke-dashoffset="0"/>
<polyline points="185.6,1613 194.4,1613 203.2,1613 212,1613 220.8,1612.8 229.6,1612.5 238.4,1614.1 247.2,1617.8 256,1621.2 264.8,1622.65 273.6,1620.65 282.4,1613.5 291.2,1602.7 300,1590.8 308.8,1579.4 317.6,1571.4 326.4,1565.7 335.2,1559.4 344,1554.6 352.8,1550 361.6,1547.2 370.4,1545.8 379.2,1544.4 388,1542.9 396.8,1541.5 405.6,1538.9 414.4,1531 423.2,1516.7 432,1501.6 440.8,1496 449.6,1497.4 458.4,1494.5" fill="none" stroke="#ff0000" stroke-width="5.5" stroke-linejoin="round" stroke-linecap="butt"/>
<polyline points="467.2,1489.1 476,1482.6 484.8,1476 493.6,1469.75 502.4,1465.5 511.2,1461.2 520,1458.4 528.8,1455.5 537.6,1452.7 546.4,1448.4" fill="none" stroke="#ffff00" stroke-width="5.5" stroke-linejoin="round" stroke-linecap="butt"/>
<circle cx="467.2" cy="1489.1" r="4.9" fill="#ffff00" stroke="#1a1a1a" stroke-width="1.6"/>
<circle cx="476" cy="1482.6" r="4.9" fill="#ffff00" stroke="#1a1a1a" stroke-width="1.6"/>
<circle cx="484.8" cy="1476" r="4.9" fill="#ffff00" stroke="#1a1a1a" stroke-width="1.6"/>
<circle cx="493.6" cy="1469.75" r="4.9" fill="#ffff00" stroke="#1a1a1a" stroke-width="1.6"/>
<circle cx="502.4" cy="1465.5" r="4.9" fill="#ffff00" stroke="#1a1a1a" stroke-width="1.6"/>
<circle cx="511.2" cy="1461.2" r="4.9" fill="#ffff00" stroke="#1a1a1a" stroke-width="1.6"/>
<circle cx="520" cy="1458.4" r="4.9" fill="#ffff00" stroke="#1a1a1a" stroke-width="1.6"/>
<circle cx="528.8" cy="1455.5" r="4.9" fill="#ffff00" stroke="#1a1a1a" stroke-width="1.6"/>
<circle cx="537.6" cy="1452.7" r="4.9" fill="#ffff00" stroke="#1a1a1a" stroke-width="1.6"/>
<circle cx="546.4" cy="1448.4" r="4.9" fill="#ffff00" stroke="#1a1a1a" stroke-width="1.6"/>
<line x1="168.1" y1="1390.4" x2="168.1" y2="1653" stroke="#000" stroke-width="2.2"/>
<line x1="167" y1="1651.9" x2="563.75" y2="1651.9" stroke="#000" stroke-width="2.2"/>
<text transform="translate(157.5,1646.9)" text-anchor="end" class="tk" font-size="18.7">840</text>
<text transform="translate(157.5,1567.4)" text-anchor="end" class="tk" font-size="18.7">860</text>
<text transform="translate(157.5,1487.9)" text-anchor="end" class="tk" font-size="18.7">880</text>
<text transform="translate(157.5,1408.4)" text-anchor="end" class="tk" font-size="18.7">900</text>
<text transform="translate(185.6,1675.7)" text-anchor="middle" class="tk" font-size="18.7">1990</text>
<text transform="translate(273.6,1675.7)" text-anchor="middle" class="tk" font-size="18.7">2000</text>
<text transform="translate(361.6,1675.7)" text-anchor="middle" class="tk" font-size="18.7">2010</text>
<text transform="translate(449.6,1675.7)" text-anchor="middle" class="tk" font-size="18.7">2020</text>
<text transform="translate(537.6,1675.7)" text-anchor="middle" class="tk" font-size="18.7">2030</text>
<text transform="translate(365.93,1701.7) scale(0.94,1)" text-anchor="middle" class="at" font-size="23.5">Year</text>
<text transform="translate(116.1,1521.15) rotate(-90)" text-anchor="middle" class="at" font-size="22.5">ASIR</text>
<text transform="translate(167.6,1371.5) scale(1.05,1)" class="ti" font-size="27.5">ASIR of Male</text>
<text transform="translate(598.5,1487.2) scale(0.93,1)" class="at" font-size="23.3">Type</text>
<line x1="601.1" y1="1519.7" x2="630" y2="1519.7" stroke="#ff0000" stroke-width="5.6"/>
<line x1="601.1" y1="1555" x2="630" y2="1555" stroke="#ffff00" stroke-width="5.6"/>
<text transform="translate(645.6,1525.6) scale(1.05,1)" class="lt" font-size="17.5">Actual</text>
<text transform="translate(645.6,1560.9) scale(1.05,1)" class="lt" font-size="17.5">Forecast</text>
<line x1="865.2" y1="1390.4" x2="865.2" y2="1651.9" stroke="#ebebeb" stroke-width="2.0"/>
<line x1="908.04" y1="1390.4" x2="908.04" y2="1651.9" stroke="#efefef" stroke-width="1.2"/>
<line x1="950.88" y1="1390.4" x2="950.88" y2="1651.9" stroke="#ebebeb" stroke-width="2.0"/>
<line x1="993.71" y1="1390.4" x2="993.71" y2="1651.9" stroke="#efefef" stroke-width="1.2"/>
<line x1="1036.55" y1="1390.4" x2="1036.55" y2="1651.9" stroke="#ebebeb" stroke-width="2.0"/>
<line x1="1079.39" y1="1390.4" x2="1079.39" y2="1651.9" stroke="#efefef" stroke-width="1.2"/>
<line x1="1122.23" y1="1390.4" x2="1122.23" y2="1651.9" stroke="#ebebeb" stroke-width="2.0"/>
<line x1="1165.06" y1="1390.4" x2="1165.06" y2="1651.9" stroke="#efefef" stroke-width="1.2"/>
<line x1="1207.9" y1="1390.4" x2="1207.9" y2="1651.9" stroke="#ebebeb" stroke-width="2.0"/>
<line x1="848.05" y1="1640.25" x2="1233.5" y2="1640.25" stroke="#ebebeb" stroke-width="2.0"/>
<line x1="848.05" y1="1600.53" x2="1233.5" y2="1600.53" stroke="#efefef" stroke-width="1.2"/>
<line x1="848.05" y1="1560.8" x2="1233.5" y2="1560.8" stroke="#ebebeb" stroke-width="2.0"/>
<line x1="848.05" y1="1521.08" x2="1233.5" y2="1521.08" stroke="#efefef" stroke-width="1.2"/>
<line x1="848.05" y1="1481.35" x2="1233.5" y2="1481.35" stroke="#ebebeb" stroke-width="2.0"/>
<line x1="848.05" y1="1441.62" x2="1233.5" y2="1441.62" stroke="#efefef" stroke-width="1.2"/>
<line x1="848.05" y1="1401.9" x2="1233.5" y2="1401.9" stroke="#ebebeb" stroke-width="2.0"/>
<path d="M1139.36,1472 L1147.93,1450.6 L1156.5,1432.9 L1165.06,1423.5 L1173.63,1420.1 L1182.2,1422.7 L1190.77,1426.4 L1199.33,1430.7 L1207.9,1432.9 L1216.47,1434.1 L1216.47,1441.1 L1207.9,1439.9 L1199.33,1437.7 L1190.77,1433.4 L1182.2,1429.7 L1173.63,1427.1 L1165.06,1430.5 L1156.5,1439.9 L1147.93,1457.6 L1139.36,1479 Z" fill="#ffff00" fill-opacity="0.21" stroke="none"/>
<line x1="1130.79" y1="1651.9" x2="1130.79" y2="1390.4" stroke="#bebebe" stroke-width="4.5" stroke-dasharray="16 19.1" stroke-dashoffset="0"/>
<polyline points="865.2,1516.7 873.77,1523.9 882.34,1532.4 890.9,1540.9 899.47,1548 908.04,1555.2 916.61,1565.1 925.17,1579.4 933.74,1593.6 942.31,1601.6 950.88,1600.2 959.44,1582.2 968.01,1548 976.58,1511 985.15,1481.1 993.71,1464.1 1002.28,1456.9 1010.85,1452.7 1019.42,1450.7 1027.98,1450.7 1036.55,1453.5 1045.12,1459.2 1053.69,1468.3 1062.25,1478.3 1070.82,1489.7 1079.39,1494.8 1087.96,1490.5 1096.52,1478.3 1105.09,1467.5 1113.66,1468.3 1122.23,1483.1 1130.79,1489.7" fill="none" stroke="#ff0000" stroke-width="5.5" stroke-linejoin="round" stroke-linecap="butt"/>
<polyline points="1139.36,1475.5 1147.93,1454.1 1156.5,1436.4 1165.06,1427 1173.63,1423.6 1182.2,1426.2 1190.77,1429.9 1199.33,1434.2 1207.9,1436.4 1216.47,1437.6" fill="none" stroke="#ffff00" stroke-width="5.5" stroke-linejoin="round" stroke-linecap="butt"/>
<circle cx="1139.36" cy="1475.5" r="4.9" fill="#ffff00" stroke="#1a1a1a" stroke-width="1.6"/>
<circle cx="1147.93" cy="1454.1" r="4.9" fill="#ffff00" stroke="#1a1a1a" stroke-width="1.6"/>
<circle cx="1156.5" cy="1436.4" r="4.9" fill="#ffff00" stroke="#1a1a1a" stroke-width="1.6"/>
<circle cx="1165.06" cy="1427" r="4.9" fill="#ffff00" stroke="#1a1a1a" stroke-width="1.6"/>
<circle cx="1173.63" cy="1423.6" r="4.9" fill="#ffff00" stroke="#1a1a1a" stroke-width="1.6"/>
<circle cx="1182.2" cy="1426.2" r="4.9" fill="#ffff00" stroke="#1a1a1a" stroke-width="1.6"/>
<circle cx="1190.77" cy="1429.9" r="4.9" fill="#ffff00" stroke="#1a1a1a" stroke-width="1.6"/>
<circle cx="1199.33" cy="1434.2" r="4.9" fill="#ffff00" stroke="#1a1a1a" stroke-width="1.6"/>
<circle cx="1207.9" cy="1436.4" r="4.9" fill="#ffff00" stroke="#1a1a1a" stroke-width="1.6"/>
<circle cx="1216.47" cy="1437.6" r="4.9" fill="#ffff00" stroke="#1a1a1a" stroke-width="1.6"/>
<line x1="848.05" y1="1390.4" x2="848.05" y2="1653" stroke="#000" stroke-width="2.2"/>
<line x1="846.95" y1="1651.9" x2="1233.5" y2="1651.9" stroke="#000" stroke-width="2.2"/>
<text transform="translate(837.45,1646.85)" text-anchor="end" class="tk" font-size="18.7">1420</text>
<text transform="translate(837.45,1567.4)" text-anchor="end" class="tk" font-size="18.7">1430</text>
<text transform="translate(837.45,1487.95)" text-anchor="end" class="tk" font-size="18.7">1440</text>
<text transform="translate(837.45,1408.5)" text-anchor="end" class="tk" font-size="18.7">1450</text>
<text transform="translate(865.2,1675.7)" text-anchor="middle" class="tk" font-size="18.7">1990</text>
<text transform="translate(950.88,1675.7)" text-anchor="middle" class="tk" font-size="18.7">2000</text>
<text transform="translate(1036.55,1675.7)" text-anchor="middle" class="tk" font-size="18.7">2010</text>
<text transform="translate(1122.23,1675.7)" text-anchor="middle" class="tk" font-size="18.7">2020</text>
<text transform="translate(1207.9,1675.7)" text-anchor="middle" class="tk" font-size="18.7">2030</text>
<text transform="translate(1040.78,1701.7) scale(0.94,1)" text-anchor="middle" class="at" font-size="23.5">Year</text>
<text transform="translate(786.1,1521.15) rotate(-90)" text-anchor="middle" class="at" font-size="22.5">ASIR</text>
<text transform="translate(847.55,1371.5) scale(1.05,1)" class="ti" font-size="27.5">ASIR of Female</text>
<text transform="translate(1268.25,1487.2) scale(0.93,1)" class="at" font-size="23.3">Type</text>
<line x1="1270.85" y1="1519.7" x2="1299.75" y2="1519.7" stroke="#ff0000" stroke-width="5.6"/>
<line x1="1270.85" y1="1555" x2="1299.75" y2="1555" stroke="#ffff00" stroke-width="5.6"/>
<text transform="translate(1315.35,1525.6) scale(1.05,1)" class="lt" font-size="17.5">Actual</text>
<text transform="translate(1315.35,1560.9) scale(1.05,1)" class="lt" font-size="17.5">Forecast</text>
<line x1="185.8" y1="1787.2" x2="185.8" y2="2048.1" stroke="#ebebeb" stroke-width="2.0"/>
<line x1="229.75" y1="1787.2" x2="229.75" y2="2048.1" stroke="#efefef" stroke-width="1.2"/>
<line x1="273.7" y1="1787.2" x2="273.7" y2="2048.1" stroke="#ebebeb" stroke-width="2.0"/>
<line x1="317.65" y1="1787.2" x2="317.65" y2="2048.1" stroke="#efefef" stroke-width="1.2"/>
<line x1="361.6" y1="1787.2" x2="361.6" y2="2048.1" stroke="#ebebeb" stroke-width="2.0"/>
<line x1="405.55" y1="1787.2" x2="405.55" y2="2048.1" stroke="#efefef" stroke-width="1.2"/>
<line x1="449.5" y1="1787.2" x2="449.5" y2="2048.1" stroke="#ebebeb" stroke-width="2.0"/>
<line x1="493.45" y1="1787.2" x2="493.45" y2="2048.1" stroke="#efefef" stroke-width="1.2"/>
<line x1="537.4" y1="1787.2" x2="537.4" y2="2048.1" stroke="#ebebeb" stroke-width="2.0"/>
<line x1="168.05" y1="2036.6" x2="563.75" y2="2036.6" stroke="#ebebeb" stroke-width="2.0"/>
<line x1="168.05" y1="2006.79" x2="563.75" y2="2006.79" stroke="#efefef" stroke-width="1.2"/>
<line x1="168.05" y1="1976.97" x2="563.75" y2="1976.97" stroke="#ebebeb" stroke-width="2.0"/>
<line x1="168.05" y1="1947.16" x2="563.75" y2="1947.16" stroke="#efefef" stroke-width="1.2"/>
<line x1="168.05" y1="1917.35" x2="563.75" y2="1917.35" stroke="#ebebeb" stroke-width="2.0"/>
<line x1="168.05" y1="1887.54" x2="563.75" y2="1887.54" stroke="#efefef" stroke-width="1.2"/>
<line x1="168.05" y1="1857.72" x2="563.75" y2="1857.72" stroke="#ebebeb" stroke-width="2.0"/>
<line x1="168.05" y1="1827.91" x2="563.75" y2="1827.91" stroke="#efefef" stroke-width="1.2"/>
<line x1="168.05" y1="1798.1" x2="563.75" y2="1798.1" stroke="#ebebeb" stroke-width="2.0"/>
<path d="M467.08,1856.9 L546.19,1825.6 L546.19,1928.1 L467.08,1938.6 Z" fill="#ffff00" fill-opacity="0.21" stroke="none"/>
<line x1="458.29" y1="2048.1" x2="458.29" y2="1787.2" stroke="#bebebe" stroke-width="4.5" stroke-dasharray="16 19.1" stroke-dashoffset="0"/>
<polyline points="185.8,1976.5 194.59,1975.9 203.38,1975.1 212.17,1973.6 220.96,1973.1 229.75,1973.6 238.54,1975.1 247.33,1893.9 256.12,1979.3 264.91,1983 273.7,1976.5 282.49,1982.2 291.28,1979.3 300.07,1973.6 308.86,1949.4 317.65,1967.1 326.44,1937.5 335.23,1944.3 344.02,1940 352.81,1935.2 361.6,1932.4 370.39,1930.1 379.18,1960.8 387.97,1953.1 396.76,1956.6 405.55,1928.7 414.34,1920.4 423.13,1926.1 431.92,1909.6 440.71,1898.2 449.5,1893.1 458.29,1894.8" fill="none" stroke="#ff0000" stroke-width="5.5" stroke-linejoin="round" stroke-linecap="butt"/>
<polyline points="467.08,1898.8 475.87,1896.8 484.66,1893.9 493.45,1891.1 502.24,1888.2 511.03,1886.2 519.82,1884 528.61,1881.1 537.4,1878.8 546.19,1875.4" fill="none" stroke="#ffff00" stroke-width="5.5" stroke-linejoin="round" stroke-linecap="butt"/>
<circle cx="467.08" cy="1898.8" r="4.9" fill="#ffff00" stroke="#1a1a1a" stroke-width="1.6"/>
<circle cx="475.87" cy="1896.8" r="4.9" fill="#ffff00" stroke="#1a1a1a" stroke-width="1.6"/>
<circle cx="484.66" cy="1893.9" r="4.9" fill="#ffff00" stroke="#1a1a1a" stroke-width="1.6"/>
<circle cx="493.45" cy="1891.1" r="4.9" fill="#ffff00" stroke="#1a1a1a" stroke-width="1.6"/>
<circle cx="502.24" cy="1888.2" r="4.9" fill="#ffff00" stroke="#1a1a1a" stroke-width="1.6"/>
<circle cx="511.03" cy="1886.2" r="4.9" fill="#ffff00" stroke="#1a1a1a" stroke-width="1.6"/>
<circle cx="519.82" cy="1884" r="4.9" fill="#ffff00" stroke="#1a1a1a" stroke-width="1.6"/>
<circle cx="528.61" cy="1881.1" r="4.9" fill="#ffff00" stroke="#1a1a1a" stroke-width="1.6"/>
<circle cx="537.4" cy="1878.8" r="4.9" fill="#ffff00" stroke="#1a1a1a" stroke-width="1.6"/>
<circle cx="546.19" cy="1875.4" r="4.9" fill="#ffff00" stroke="#1a1a1a" stroke-width="1.6"/>
<line x1="168.05" y1="1787.2" x2="168.05" y2="2049.2" stroke="#000" stroke-width="2.2"/>
<line x1="166.95" y1="2048.1" x2="563.75" y2="2048.1" stroke="#000" stroke-width="2.2"/>
<text transform="translate(157.45,2043.2)" text-anchor="end" class="tk" font-size="18.7">380</text>
<text transform="translate(157.45,1983.57)" text-anchor="end" class="tk" font-size="18.7">390</text>
<text transform="translate(157.45,1923.95)" text-anchor="end" class="tk" font-size="18.7">400</text>
<text transform="translate(157.45,1864.32)" text-anchor="end" class="tk" font-size="18.7">410</text>
<text transform="translate(157.45,1804.7)" text-anchor="end" class="tk" font-size="18.7">420</text>
<text transform="translate(185.8,2071.9)" text-anchor="middle" class="tk" font-size="18.7">1990</text>
<text transform="translate(273.7,2071.9)" text-anchor="middle" class="tk" font-size="18.7">2000</text>
<text transform="translate(361.6,2071.9)" text-anchor="middle" class="tk" font-size="18.7">2010</text>
<text transform="translate(449.5,2071.9)" text-anchor="middle" class="tk" font-size="18.7">2020</text>
<text transform="translate(537.4,2071.9)" text-anchor="middle" class="tk" font-size="18.7">2030</text>
<text transform="translate(365.9,2097.9) scale(0.94,1)" text-anchor="middle" class="at" font-size="23.5">Year</text>
<text transform="translate(116.65,1917.65) rotate(-90)" text-anchor="middle" class="at" font-size="22.5">ASDR</text>
<text transform="translate(167.55,1768.3) scale(1.05,1)" class="ti" font-size="27.5">ASDR of Male</text>
<text transform="translate(598.5,1884) scale(0.93,1)" class="at" font-size="23.3">Type</text>
<line x1="601.1" y1="1916.5" x2="630" y2="1916.5" stroke="#ff0000" stroke-width="5.6"/>
<line x1="601.1" y1="1951.8" x2="630" y2="1951.8" stroke="#ffff00" stroke-width="5.6"/>
<text transform="translate(645.6,1922.4) scale(1.05,1)" class="lt" font-size="17.5">Actual</text>
<text transform="translate(645.6,1957.7) scale(1.05,1)" class="lt" font-size="17.5">Forecast</text>
<line x1="855.5" y1="1787.2" x2="855.5" y2="2048.1" stroke="#ebebeb" stroke-width="2.0"/>
<line x1="899.49" y1="1787.2" x2="899.49" y2="2048.1" stroke="#efefef" stroke-width="1.2"/>
<line x1="943.48" y1="1787.2" x2="943.48" y2="2048.1" stroke="#ebebeb" stroke-width="2.0"/>
<line x1="987.46" y1="1787.2" x2="987.46" y2="2048.1" stroke="#efefef" stroke-width="1.2"/>
<line x1="1031.45" y1="1787.2" x2="1031.45" y2="2048.1" stroke="#ebebeb" stroke-width="2.0"/>
<line x1="1075.44" y1="1787.2" x2="1075.44" y2="2048.1" stroke="#efefef" stroke-width="1.2"/>
<line x1="1119.43" y1="1787.2" x2="1119.43" y2="2048.1" stroke="#ebebeb" stroke-width="2.0"/>
<line x1="1163.41" y1="1787.2" x2="1163.41" y2="2048.1" stroke="#efefef" stroke-width="1.2"/>
<line x1="1207.4" y1="1787.2" x2="1207.4" y2="2048.1" stroke="#ebebeb" stroke-width="2.0"/>
<line x1="837.8" y1="2036.6" x2="1233.4" y2="2036.6" stroke="#ebebeb" stroke-width="2.0"/>
<line x1="837.8" y1="1996.85" x2="1233.4" y2="1996.85" stroke="#efefef" stroke-width="1.2"/>
<line x1="837.8" y1="1957.1" x2="1233.4" y2="1957.1" stroke="#ebebeb" stroke-width="2.0"/>
<line x1="837.8" y1="1917.35" x2="1233.4" y2="1917.35" stroke="#efefef" stroke-width="1.2"/>
<line x1="837.8" y1="1877.6" x2="1233.4" y2="1877.6" stroke="#ebebeb" stroke-width="2.0"/>
<line x1="837.8" y1="1837.85" x2="1233.4" y2="1837.85" stroke="#efefef" stroke-width="1.2"/>
<line x1="837.8" y1="1798.1" x2="1233.4" y2="1798.1" stroke="#ebebeb" stroke-width="2.0"/>
<path d="M1137.02,1851 L1139.66,1843 L1143.18,1839 L1147.58,1837.3 L1154.62,1837 L1216.2,1837 L1216.2,1965 L1154.62,1965 L1147.58,1964.5 L1143.18,1961 L1139.66,1955 L1137.02,1945 Z" fill="#ffff00" fill-opacity="0.21" stroke="none"/>
<line x1="1128.22" y1="2048.1" x2="1128.22" y2="1787.2" stroke="#bebebe" stroke-width="4.5" stroke-dasharray="16 19.1" stroke-dashoffset="0"/>
<polyline points="855.5,1878.8 864.3,1880.5 873.1,1883.1 881.89,1889.7 890.69,1894.5 899.49,1906.7 908.28,1886 917.08,1912.4 925.88,1952.3 934.68,1985 943.48,1929.5 952.27,1975.1 961.07,1977.9 969.87,1956.6 978.67,1882.5 987.46,1930.1 996.26,1869.15 1005.06,1875.4 1013.86,1869.7 1022.65,1873.1 1031.45,1878.3 1040.25,1885.4 1049.05,1906.2 1057.84,1890.2 1066.64,1894.8 1075.44,1891.6 1084.24,1895.9 1093.03,1898.2 1101.83,1884 1110.63,1874 1119.43,1874 1128.22,1893.9" fill="none" stroke="#ff0000" stroke-width="5.5" stroke-linejoin="round" stroke-linecap="butt"/>
<polyline points="1137.02,1899 1145.82,1899.6 1154.62,1900 1163.41,1900.3 1172.21,1900.5 1181.01,1900.6 1189.81,1900.8 1198.6,1900.8 1207.4,1901 1216.2,1901" fill="none" stroke="#ffff00" stroke-width="5.5" stroke-linejoin="round" stroke-linecap="butt"/>
<circle cx="1137.02" cy="1899" r="4.9" fill="#ffff00" stroke="#1a1a1a" stroke-width="1.6"/>
<circle cx="1145.82" cy="1899.6" r="4.9" fill="#ffff00" stroke="#1a1a1a" stroke-width="1.6"/>
<circle cx="1154.62" cy="1900" r="4.9" fill="#ffff00" stroke="#1a1a1a" stroke-width="1.6"/>
<circle cx="1163.41" cy="1900.3" r="4.9" fill="#ffff00" stroke="#1a1a1a" stroke-width="1.6"/>
<circle cx="1172.21" cy="1900.5" r="4.9" fill="#ffff00" stroke="#1a1a1a" stroke-width="1.6"/>
<circle cx="1181.01" cy="1900.6" r="4.9" fill="#ffff00" stroke="#1a1a1a" stroke-width="1.6"/>
<circle cx="1189.81" cy="1900.8" r="4.9" fill="#ffff00" stroke="#1a1a1a" stroke-width="1.6"/>
<circle cx="1198.6" cy="1900.8" r="4.9" fill="#ffff00" stroke="#1a1a1a" stroke-width="1.6"/>
<circle cx="1207.4" cy="1901" r="4.9" fill="#ffff00" stroke="#1a1a1a" stroke-width="1.6"/>
<circle cx="1216.2" cy="1901" r="4.9" fill="#ffff00" stroke="#1a1a1a" stroke-width="1.6"/>
<line x1="837.8" y1="1787.2" x2="837.8" y2="2049.2" stroke="#000" stroke-width="2.2"/>
<line x1="836.7" y1="2048.1" x2="1233.4" y2="2048.1" stroke="#000" stroke-width="2.2"/>
<text transform="translate(827.2,2043.2)" text-anchor="end" class="tk" font-size="18.7">655</text>
<text transform="translate(827.2,1963.7)" text-anchor="end" class="tk" font-size="18.7">660</text>
<text transform="translate(827.2,1884.2)" text-anchor="end" class="tk" font-size="18.7">665</text>
<text transform="translate(827.2,1804.7)" text-anchor="end" class="tk" font-size="18.7">670</text>
<text transform="translate(855.5,2071.9)" text-anchor="middle" class="tk" font-size="18.7">1990</text>
<text transform="translate(943.48,2071.9)" text-anchor="middle" class="tk" font-size="18.7">2000</text>
<text transform="translate(1031.45,2071.9)" text-anchor="middle" class="tk" font-size="18.7">2010</text>
<text transform="translate(1119.43,2071.9)" text-anchor="middle" class="tk" font-size="18.7">2020</text>
<text transform="translate(1207.4,2071.9)" text-anchor="middle" class="tk" font-size="18.7">2030</text>
<text transform="translate(1035.6,2097.9) scale(0.94,1)" text-anchor="middle" class="at" font-size="23.5">Year</text>
<text transform="translate(787.2,1917.65) rotate(-90)" text-anchor="middle" class="at" font-size="22.5">ASDR</text>
<text transform="translate(837.3,1768.3) scale(1.05,1)" class="ti" font-size="27.5">ASDR of Female</text>
<text transform="translate(1268.15,1884) scale(0.93,1)" class="at" font-size="23.3">Type</text>
<line x1="1270.75" y1="1916.5" x2="1299.65" y2="1916.5" stroke="#ff0000" stroke-width="5.6"/>
<line x1="1270.75" y1="1951.8" x2="1299.65" y2="1951.8" stroke="#ffff00" stroke-width="5.6"/>
<text transform="translate(1315.25,1922.4) scale(1.05,1)" class="lt" font-size="17.5">Actual</text>
<text transform="translate(1315.25,1957.7) scale(1.05,1)" class="lt" font-size="17.5">Forecast</text>
<line x1="206.2" y1="2183.3" x2="206.2" y2="2444.6" stroke="#ebebeb" stroke-width="2.0"/>
<line x1="247.75" y1="2183.3" x2="247.75" y2="2444.6" stroke="#efefef" stroke-width="1.2"/>
<line x1="289.3" y1="2183.3" x2="289.3" y2="2444.6" stroke="#ebebeb" stroke-width="2.0"/>
<line x1="330.85" y1="2183.3" x2="330.85" y2="2444.6" stroke="#efefef" stroke-width="1.2"/>
<line x1="372.4" y1="2183.3" x2="372.4" y2="2444.6" stroke="#ebebeb" stroke-width="2.0"/>
<line x1="413.95" y1="2183.3" x2="413.95" y2="2444.6" stroke="#efefef" stroke-width="1.2"/>
<line x1="455.5" y1="2183.3" x2="455.5" y2="2444.6" stroke="#ebebeb" stroke-width="2.0"/>
<line x1="497.05" y1="2183.3" x2="497.05" y2="2444.6" stroke="#efefef" stroke-width="1.2"/>
<line x1="538.6" y1="2183.3" x2="538.6" y2="2444.6" stroke="#ebebeb" stroke-width="2.0"/>
<line x1="188.9" y1="2412.85" x2="563.75" y2="2412.85" stroke="#efefef" stroke-width="1.2"/>
<line x1="188.9" y1="2363.2" x2="563.75" y2="2363.2" stroke="#ebebeb" stroke-width="2.0"/>
<line x1="188.9" y1="2313.55" x2="563.75" y2="2313.55" stroke="#efefef" stroke-width="1.2"/>
<line x1="188.9" y1="2263.9" x2="563.75" y2="2263.9" stroke="#ebebeb" stroke-width="2.0"/>
<line x1="188.9" y1="2214.25" x2="563.75" y2="2214.25" stroke="#efefef" stroke-width="1.2"/>
<path d="M472.12,2326.7 L480.43,2306.7 L488.74,2292.5 L497.05,2279.7 L505.36,2269.7 L513.67,2255.5 L521.98,2241.25 L530.29,2224.2 L538.6,2207.1 L546.91,2198.5 L546.91,2331 L538.6,2328.9 L530.29,2327.2 L521.98,2326.1 L513.67,2326.7 L505.36,2328.1 L497.05,2328.1 L488.74,2325.25 L480.43,2322.4 L472.12,2331 Z" fill="#ffff00" fill-opacity="0.21" stroke="none"/>
<line x1="463.81" y1="2444.6" x2="463.81" y2="2183.3" stroke="#bebebe" stroke-width="4.5" stroke-dasharray="16 19.1" stroke-dashoffset="0"/>
<polyline points="206.2,2416.9 214.51,2416.9 222.82,2416.4 231.13,2415.8 239.44,2414.9 247.75,2414.4 256.06,2415.5 264.37,2419.2 272.68,2422 280.99,2423.5 289.3,2422.9 297.61,2420.05 305.92,2414.9 314.23,2408.7 322.54,2403 330.85,2399.3 339.16,2395.6 347.47,2391.6 355.78,2387.9 364.09,2385 372.4,2382.75 380.71,2380.2 389.02,2377.9 397.33,2375.1 405.64,2372.8 413.95,2370.8 422.26,2366 430.57,2355.1 438.88,2345.2 447.19,2340.9 455.5,2340.9 463.81,2338.05" fill="none" stroke="#ff0000" stroke-width="5.5" stroke-linejoin="round" stroke-linecap="butt"/>
<polyline points="472.12,2328.9 480.43,2316.7 488.74,2308.2 497.05,2304.5 505.36,2301 513.67,2294.8 521.98,2284.8 530.29,2275.4 538.6,2269.7 546.91,2264.6" fill="none" stroke="#ffff00" stroke-width="5.5" stroke-linejoin="round" stroke-linecap="butt"/>
<circle cx="472.12" cy="2328.9" r="4.9" fill="#ffff00" stroke="#1a1a1a" stroke-width="1.6"/>
<circle cx="480.43" cy="2316.7" r="4.9" fill="#ffff00" stroke="#1a1a1a" stroke-width="1.6"/>
<circle cx="488.74" cy="2308.2" r="4.9" fill="#ffff00" stroke="#1a1a1a" stroke-width="1.6"/>
<circle cx="497.05" cy="2304.5" r="4.9" fill="#ffff00" stroke="#1a1a1a" stroke-width="1.6"/>
<circle cx="505.36" cy="2301" r="4.9" fill="#ffff00" stroke="#1a1a1a" stroke-width="1.6"/>
<circle cx="513.67" cy="2294.8" r="4.9" fill="#ffff00" stroke="#1a1a1a" stroke-width="1.6"/>
<circle cx="521.98" cy="2284.8" r="4.9" fill="#ffff00" stroke="#1a1a1a" stroke-width="1.6"/>
<circle cx="530.29" cy="2275.4" r="4.9" fill="#ffff00" stroke="#1a1a1a" stroke-width="1.6"/>
<circle cx="538.6" cy="2269.7" r="4.9" fill="#ffff00" stroke="#1a1a1a" stroke-width="1.6"/>
<circle cx="546.91" cy="2264.6" r="4.9" fill="#ffff00" stroke="#1a1a1a" stroke-width="1.6"/>
<line x1="188.9" y1="2183.3" x2="188.9" y2="2445.7" stroke="#000" stroke-width="2.2"/>
<line x1="187.8" y1="2444.6" x2="563.75" y2="2444.6" stroke="#000" stroke-width="2.2"/>
<text transform="translate(178.3,2369.8)" text-anchor="end" class="tk" font-size="18.7">10500</text>
<text transform="translate(178.3,2270.5)" text-anchor="end" class="tk" font-size="18.7">11000</text>
<text transform="translate(206.2,2468.4)" text-anchor="middle" class="tk" font-size="18.7">1990</text>
<text transform="translate(289.3,2468.4)" text-anchor="middle" class="tk" font-size="18.7">2000</text>
<text transform="translate(372.4,2468.4)" text-anchor="middle" class="tk" font-size="18.7">2010</text>
<text transform="translate(455.5,2468.4)" text-anchor="middle" class="tk" font-size="18.7">2020</text>
<text transform="translate(538.6,2468.4)" text-anchor="middle" class="tk" font-size="18.7">2030</text>
<text transform="translate(376.32,2494.4) scale(0.94,1)" text-anchor="middle" class="at" font-size="23.5">Year</text>
<text transform="translate(116.7,2313.95) rotate(-90)" text-anchor="middle" class="at" font-size="22.5">ASPR</text>
<text transform="translate(188.4,2164.4) scale(1.05,1)" class="ti" font-size="27.5">ASPR of Male</text>
<text transform="translate(598.5,2280.1) scale(0.93,1)" class="at" font-size="23.3">Type</text>
<line x1="601.1" y1="2312.6" x2="630" y2="2312.6" stroke="#ff0000" stroke-width="5.6"/>
<line x1="601.1" y1="2347.9" x2="630" y2="2347.9" stroke="#ffff00" stroke-width="5.6"/>
<text transform="translate(645.6,2318.5) scale(1.05,1)" class="lt" font-size="17.5">Actual</text>
<text transform="translate(645.6,2353.8) scale(1.05,1)" class="lt" font-size="17.5">Forecast</text>
<line x1="875.2" y1="2183.1" x2="875.2" y2="2444.6" stroke="#ebebeb" stroke-width="2.0"/>
<line x1="916.86" y1="2183.1" x2="916.86" y2="2444.6" stroke="#efefef" stroke-width="1.2"/>
<line x1="958.53" y1="2183.1" x2="958.53" y2="2444.6" stroke="#ebebeb" stroke-width="2.0"/>
<line x1="1000.19" y1="2183.1" x2="1000.19" y2="2444.6" stroke="#efefef" stroke-width="1.2"/>
<line x1="1041.85" y1="2183.1" x2="1041.85" y2="2444.6" stroke="#ebebeb" stroke-width="2.0"/>
<line x1="1083.51" y1="2183.1" x2="1083.51" y2="2444.6" stroke="#efefef" stroke-width="1.2"/>
<line x1="1125.17" y1="2183.1" x2="1125.17" y2="2444.6" stroke="#ebebeb" stroke-width="2.0"/>
<line x1="1166.84" y1="2183.1" x2="1166.84" y2="2444.6" stroke="#efefef" stroke-width="1.2"/>
<line x1="1208.5" y1="2183.1" x2="1208.5" y2="2444.6" stroke="#ebebeb" stroke-width="2.0"/>
<line x1="858.3" y1="2432.8" x2="1233.4" y2="2432.8" stroke="#efefef" stroke-width="1.2"/>
<line x1="858.3" y1="2403" x2="1233.4" y2="2403" stroke="#ebebeb" stroke-width="2.0"/>
<line x1="858.3" y1="2373.2" x2="1233.4" y2="2373.2" stroke="#efefef" stroke-width="1.2"/>
<line x1="858.3" y1="2343.4" x2="1233.4" y2="2343.4" stroke="#ebebeb" stroke-width="2.0"/>
<line x1="858.3" y1="2313.6" x2="1233.4" y2="2313.6" stroke="#efefef" stroke-width="1.2"/>
<line x1="858.3" y1="2283.8" x2="1233.4" y2="2283.8" stroke="#ebebeb" stroke-width="2.0"/>
<line x1="858.3" y1="2254" x2="1233.4" y2="2254" stroke="#efefef" stroke-width="1.2"/>
<line x1="858.3" y1="2224.2" x2="1233.4" y2="2224.2" stroke="#ebebeb" stroke-width="2.0"/>
<line x1="858.3" y1="2194.4" x2="1233.4" y2="2194.4" stroke="#efefef" stroke-width="1.2"/>
<path d="M1141.84,2261.95 L1150.17,2240 L1158.51,2227.8 L1166.84,2227.2 L1175.17,2232.05 L1183.5,2236.3 L1191.84,2236.3 L1200.17,2236.3 L1208.5,2237.75 L1216.83,2240 L1216.83,2247 L1208.5,2244.75 L1200.17,2243.3 L1191.84,2243.3 L1183.5,2243.3 L1175.17,2239.05 L1166.84,2234.2 L1158.51,2234.8 L1150.17,2247 L1141.84,2268.95 Z" fill="#ffff00" fill-opacity="0.21" stroke="none"/>
<line x1="1133.51" y1="2444.6" x2="1133.51" y2="2183.1" stroke="#bebebe" stroke-width="4.5" stroke-dasharray="16 19.1" stroke-dashoffset="0"/>
<polyline points="875.2,2305.3 883.53,2308.2 891.87,2310.4 900.2,2313.3 908.53,2316.7 916.86,2321.5 925.2,2332.4 933.53,2352.3 941.86,2377.9 950.19,2400.7 958.53,2410.7 966.86,2403 975.19,2382.2 983.52,2355.1 991.86,2328.1 1000.19,2315.3 1008.52,2309.6 1016.85,2302.5 1025.18,2295.35 1033.52,2292 1041.85,2290.5 1050.18,2292.5 1058.52,2299 1066.85,2303.9 1075.18,2309 1083.51,2311.9 1091.85,2306.7 1100.18,2291.9 1108.51,2276.8 1116.84,2274.6 1125.17,2283.1 1133.51,2281.7" fill="none" stroke="#ff0000" stroke-width="5.5" stroke-linejoin="round" stroke-linecap="butt"/>
<polyline points="1141.84,2265.45 1150.17,2243.5 1158.51,2231.3 1166.84,2230.7 1175.17,2235.55 1183.5,2239.8 1191.84,2239.8 1200.17,2239.8 1208.5,2241.25 1216.83,2243.5" fill="none" stroke="#ffff00" stroke-width="5.5" stroke-linejoin="round" stroke-linecap="butt"/>
<circle cx="1141.84" cy="2265.45" r="4.9" fill="#ffff00" stroke="#1a1a1a" stroke-width="1.6"/>
<circle cx="1150.17" cy="2243.5" r="4.9" fill="#ffff00" stroke="#1a1a1a" stroke-width="1.6"/>
<circle cx="1158.51" cy="2231.3" r="4.9" fill="#ffff00" stroke="#1a1a1a" stroke-width="1.6"/>
<circle cx="1166.84" cy="2230.7" r="4.9" fill="#ffff00" stroke="#1a1a1a" stroke-width="1.6"/>
<circle cx="1175.17" cy="2235.55" r="4.9" fill="#ffff00" stroke="#1a1a1a" stroke-width="1.6"/>
<circle cx="1183.5" cy="2239.8" r="4.9" fill="#ffff00" stroke="#1a1a1a" stroke-width="1.6"/>
<circle cx="1191.84" cy="2239.8" r="4.9" fill="#ffff00" stroke="#1a1a1a" stroke-width="1.6"/>
<circle cx="1200.17" cy="2239.8" r="4.9" fill="#ffff00" stroke="#1a1a1a" stroke-width="1.6"/>
<circle cx="1208.5" cy="2241.25" r="4.9" fill="#ffff00" stroke="#1a1a1a" stroke-width="1.6"/>
<circle cx="1216.83" cy="2243.5" r="4.9" fill="#ffff00" stroke="#1a1a1a" stroke-width="1.6"/>
<line x1="858.3" y1="2183.1" x2="858.3" y2="2445.7" stroke="#000" stroke-width="2.2"/>
<line x1="857.2" y1="2444.6" x2="1233.4" y2="2444.6" stroke="#000" stroke-width="2.2"/>
<text transform="translate(847.7,2409.6)" text-anchor="end" class="tk" font-size="18.7">17700</text>
<text transform="translate(847.7,2350)" text-anchor="end" class="tk" font-size="18.7">17800</text>
<text transform="translate(847.7,2290.4)" text-anchor="end" class="tk" font-size="18.7">17900</text>
<text transform="translate(847.7,2230.8)" text-anchor="end" class="tk" font-size="18.7">18000</text>
<text transform="translate(875.2,2468.4)" text-anchor="middle" class="tk" font-size="18.7">1990</text>
<text transform="translate(958.53,2468.4)" text-anchor="middle" class="tk" font-size="18.7">2000</text>
<text transform="translate(1041.85,2468.4)" text-anchor="middle" class="tk" font-size="18.7">2010</text>
<text transform="translate(1125.17,2468.4)" text-anchor="middle" class="tk" font-size="18.7">2020</text>
<text transform="translate(1208.5,2468.4)" text-anchor="middle" class="tk" font-size="18.7">2030</text>
<text transform="translate(1045.85,2494.4) scale(0.94,1)" text-anchor="middle" class="at" font-size="23.5">Year</text>
<text transform="translate(787.2,2313.85) rotate(-90)" text-anchor="middle" class="at" font-size="22.5">ASPR</text>
<text transform="translate(857.8,2164.2) scale(1.05,1)" class="ti" font-size="27.5">ASPR of Female</text>
<text transform="translate(1268.15,2279.9) scale(0.93,1)" class="at" font-size="23.3">Type</text>
<line x1="1270.75" y1="2312.4" x2="1299.65" y2="2312.4" stroke="#ff0000" stroke-width="5.6"/>
<line x1="1270.75" y1="2347.7" x2="1299.65" y2="2347.7" stroke="#ffff00" stroke-width="5.6"/>
<text transform="translate(1315.25,2318.3) scale(1.05,1)" class="lt" font-size="17.5">Actual</text>
<text transform="translate(1315.25,2353.6) scale(1.05,1)" class="lt" font-size="17.5">Forecast</text>
</svg></body></html>
